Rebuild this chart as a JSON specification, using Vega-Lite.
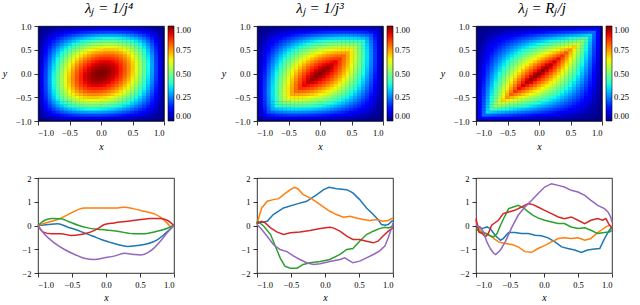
{
"$schema": "https://vega.github.io/schema/vega-lite/v6.json",
"padding": {"left": 1, "top": 0, "right": 0, "bottom": 0},
"background": "white",
"config": {
 "font": "Liberation Serif",
 "view": {"stroke": "black", "strokeWidth": 0.8},
 "axis": {"grid": false, "domain": false, "tickColor": "black", "tickSize": 4, "tickWidth": 0.8, "labelFont": "Liberation Serif", "labelFontSize": 8.5, "labelColor": "black", "labelPadding": 3, "titleFont": "Liberation Serif", "titleFontSize": 10, "titleFontStyle": "italic", "titleFontWeight": "normal", "titleColor": "black"},
 "title": {"font": "Liberation Serif", "fontSize": 15, "fontWeight": "normal", "fontStyle": "italic", "color": "black", "offset": 6},
 "legend": {"orient": "right", "offset": 4, "padding": 0, "gradientLength": 95, "gradientThickness": 6, "gradientStrokeColor": "black", "gradientStrokeWidth": 0.6, "labelFont": "Liberation Serif", "labelFontSize": 8.5, "labelColor": "black", "labelOffset": 4, "labelBaseline": "middle"}
},
"columns": 3,
"bounds": "flush",
"spacing": {"row": 57, "column": 83},
"resolve": {"scale": {"color": "independent", "x": "independent", "y": "independent"}, "legend": {"color": "independent"}},
"datasets": {
"hm": [
{"x":-0.9375,"y":-0.9375,"a":0.015,"b":0.042,"c":0.121},{"x":-0.875,"y":-0.9375,"a":0.028,"b":0.057,"c":0.117},{"x":-0.8125,"y":-0.9375,"a":0.040,"b":0.068,"c":0.113},{"x":-0.75,"y":-0.9375,"a":0.051,"b":0.075,"c":0.109},{"x":-0.6875,"y":-0.9375,"a":0.061,"b":0.080,"c":0.105},{"x":-0.625,"y":-0.9375,"a":0.069,"b":0.084,"c":0.102},{"x":-0.5625,"y":-0.9375,"a":0.076,"b":0.086,"c":0.098},{"x":-0.5,"y":-0.9375,"a":0.082,"b":0.088,"c":0.094},{"x":-0.4375,"y":-0.9375,"a":0.087,"b":0.088,"c":0.090},{"x":-0.375,"y":-0.9375,"a":0.090,"b":0.088,"c":0.086},{"x":-0.3125,"y":-0.9375,"a":0.093,"b":0.087,"c":0.082},{"x":-0.25,"y":-0.9375,"a":0.095,"b":0.086,"c":0.078},{"x":-0.1875,"y":-0.9375,"a":0.096,"b":0.084,"c":0.074},{"x":-0.125,"y":-0.9375,"a":0.096,"b":0.082,"c":0.070},{"x":-0.0625,"y":-0.9375,"a":0.095,"b":0.079,"c":0.066},{"x":0,"y":-0.9375,"a":0.094,"b":0.077,"c":0.063},{"x":0.0625,"y":-0.9375,"a":0.091,"b":0.073,"c":0.059},{"x":0.125,"y":-0.9375,"a":0.088,"b":0.070,"c":0.055},{"x":0.1875,"y":-0.9375,"a":0.085,"b":0.066,"c":0.051},{"x":0.25,"y":-0.9375,"a":0.080,"b":0.061,"c":0.047},{"x":0.3125,"y":-0.9375,"a":0.076,"b":0.057,"c":0.043},{"x":0.375,"y":-0.9375,"a":0.070,"b":0.052,"c":0.039},{"x":0.4375,"y":-0.9375,"a":0.065,"b":0.048,"c":0.035},{"x":0.5,"y":-0.9375,"a":0.059,"b":0.043,"c":0.031},{"x":0.5625,"y":-0.9375,"a":0.052,"b":0.038,"c":0.027},{"x":0.625,"y":-0.9375,"a":0.045,"b":0.033,"c":0.023},{"x":0.6875,"y":-0.9375,"a":0.038,"b":0.027,"c":0.020},{"x":0.75,"y":-0.9375,"a":0.031,"b":0.022,"c":0.016},{"x":0.8125,"y":-0.9375,"a":0.023,"b":0.016,"c":0.012},{"x":0.875,"y":-0.9375,"a":0.016,"b":0.011,"c":0.008},{"x":0.9375,"y":-0.9375,"a":0.008,"b":0.006,"c":0.004},
{"x":-0.9375,"y":-0.875,"a":0.028,"b":0.057,"c":0.117},{"x":-0.875,"y":-0.875,"a":0.055,"b":0.113,"c":0.234},{"x":-0.8125,"y":-0.875,"a":0.079,"b":0.134,"c":0.227},{"x":-0.75,"y":-0.875,"a":0.101,"b":0.149,"c":0.219},{"x":-0.6875,"y":-0.875,"a":0.120,"b":0.159,"c":0.211},{"x":-0.625,"y":-0.875,"a":0.136,"b":0.166,"c":0.203},{"x":-0.5625,"y":-0.875,"a":0.151,"b":0.171,"c":0.195},{"x":-0.5,"y":-0.875,"a":0.163,"b":0.175,"c":0.188},{"x":-0.4375,"y":-0.875,"a":0.172,"b":0.176,"c":0.180},{"x":-0.375,"y":-0.875,"a":0.180,"b":0.176,"c":0.172},{"x":-0.3125,"y":-0.875,"a":0.186,"b":0.174,"c":0.164},{"x":-0.25,"y":-0.875,"a":0.189,"b":0.172,"c":0.156},{"x":-0.1875,"y":-0.875,"a":0.191,"b":0.168,"c":0.148},{"x":-0.125,"y":-0.875,"a":0.191,"b":0.164,"c":0.141},{"x":-0.0625,"y":-0.875,"a":0.190,"b":0.159,"c":0.133},{"x":0,"y":-0.875,"a":0.187,"b":0.153,"c":0.125},{"x":0.0625,"y":-0.875,"a":0.182,"b":0.146,"c":0.117},{"x":0.125,"y":-0.875,"a":0.176,"b":0.139,"c":0.109},{"x":0.1875,"y":-0.875,"a":0.169,"b":0.131,"c":0.102},{"x":0.25,"y":-0.875,"a":0.160,"b":0.123,"c":0.094},{"x":0.3125,"y":-0.875,"a":0.151,"b":0.114,"c":0.086},{"x":0.375,"y":-0.875,"a":0.140,"b":0.105,"c":0.078},{"x":0.4375,"y":-0.875,"a":0.129,"b":0.095,"c":0.070},{"x":0.5,"y":-0.875,"a":0.117,"b":0.085,"c":0.063},{"x":0.5625,"y":-0.875,"a":0.104,"b":0.075,"c":0.055},{"x":0.625,"y":-0.875,"a":0.090,"b":0.065,"c":0.047},{"x":0.6875,"y":-0.875,"a":0.076,"b":0.054,"c":0.039},{"x":0.75,"y":-0.875,"a":0.061,"b":0.044,"c":0.031},{"x":0.8125,"y":-0.875,"a":0.046,"b":0.033,"c":0.023},{"x":0.875,"y":-0.875,"a":0.031,"b":0.022,"c":0.016},{"x":0.9375,"y":-0.875,"a":0.016,"b":0.011,"c":0.008},
{"x":-0.9375,"y":-0.8125,"a":0.040,"b":0.068,"c":0.113},{"x":-0.875,"y":-0.8125,"a":0.079,"b":0.134,"c":0.227},{"x":-0.8125,"y":-0.8125,"a":0.116,"b":0.198,"c":0.340},{"x":-0.75,"y":-0.8125,"a":0.148,"b":0.220,"c":0.328},{"x":-0.6875,"y":-0.8125,"a":0.177,"b":0.236,"c":0.316},{"x":-0.625,"y":-0.8125,"a":0.202,"b":0.248,"c":0.305},{"x":-0.5625,"y":-0.8125,"a":0.223,"b":0.256,"c":0.293},{"x":-0.5,"y":-0.8125,"a":0.241,"b":0.260,"c":0.281},{"x":-0.4375,"y":-0.8125,"a":0.256,"b":0.263,"c":0.270},{"x":-0.375,"y":-0.8125,"a":0.267,"b":0.263,"c":0.258},{"x":-0.3125,"y":-0.8125,"a":0.276,"b":0.261,"c":0.246},{"x":-0.25,"y":-0.8125,"a":0.281,"b":0.257,"c":0.234},{"x":-0.1875,"y":-0.8125,"a":0.285,"b":0.252,"c":0.223},{"x":-0.125,"y":-0.8125,"a":0.285,"b":0.245,"c":0.211},{"x":-0.0625,"y":-0.8125,"a":0.282,"b":0.237,"c":0.199},{"x":0,"y":-0.8125,"a":0.278,"b":0.228,"c":0.188},{"x":0.0625,"y":-0.8125,"a":0.271,"b":0.219,"c":0.176},{"x":0.125,"y":-0.8125,"a":0.262,"b":0.208,"c":0.164},{"x":0.1875,"y":-0.8125,"a":0.252,"b":0.196,"c":0.152},{"x":0.25,"y":-0.8125,"a":0.239,"b":0.183,"c":0.141},{"x":0.3125,"y":-0.8125,"a":0.225,"b":0.170,"c":0.129},{"x":0.375,"y":-0.8125,"a":0.209,"b":0.157,"c":0.117},{"x":0.4375,"y":-0.8125,"a":0.192,"b":0.142,"c":0.105},{"x":0.5,"y":-0.8125,"a":0.174,"b":0.128,"c":0.094},{"x":0.5625,"y":-0.8125,"a":0.155,"b":0.113,"c":0.082},{"x":0.625,"y":-0.8125,"a":0.134,"b":0.097,"c":0.070},{"x":0.6875,"y":-0.8125,"a":0.113,"b":0.082,"c":0.059},{"x":0.75,"y":-0.8125,"a":0.091,"b":0.065,"c":0.047},{"x":0.8125,"y":-0.8125,"a":0.069,"b":0.049,"c":0.035},{"x":0.875,"y":-0.8125,"a":0.046,"b":0.033,"c":0.023},{"x":0.9375,"y":-0.8125,"a":0.023,"b":0.016,"c":0.012},
{"x":-0.9375,"y":-0.75,"a":0.051,"b":0.075,"c":0.109},{"x":-0.875,"y":-0.75,"a":0.101,"b":0.149,"c":0.219},{"x":-0.8125,"y":-0.75,"a":0.148,"b":0.220,"c":0.328},{"x":-0.75,"y":-0.75,"a":0.191,"b":0.289,"c":0.438},{"x":-0.6875,"y":-0.75,"a":0.230,"b":0.311,"c":0.422},{"x":-0.625,"y":-0.75,"a":0.263,"b":0.327,"c":0.406},{"x":-0.5625,"y":-0.75,"a":0.292,"b":0.338,"c":0.391},{"x":-0.5,"y":-0.75,"a":0.316,"b":0.345,"c":0.375},{"x":-0.4375,"y":-0.75,"a":0.336,"b":0.347,"c":0.359},{"x":-0.375,"y":-0.75,"a":0.352,"b":0.348,"c":0.344},{"x":-0.3125,"y":-0.75,"a":0.363,"b":0.345,"c":0.328},{"x":-0.25,"y":-0.75,"a":0.371,"b":0.341,"c":0.313},{"x":-0.1875,"y":-0.75,"a":0.375,"b":0.334,"c":0.297},{"x":-0.125,"y":-0.75,"a":0.376,"b":0.325,"c":0.281},{"x":-0.0625,"y":-0.75,"a":0.373,"b":0.315,"c":0.266},{"x":0,"y":-0.75,"a":0.367,"b":0.303,"c":0.25},{"x":0.0625,"y":-0.75,"a":0.358,"b":0.290,"c":0.234},{"x":0.125,"y":-0.75,"a":0.347,"b":0.276,"c":0.219},{"x":0.1875,"y":-0.75,"a":0.333,"b":0.260,"c":0.203},{"x":0.25,"y":-0.75,"a":0.316,"b":0.244,"c":0.188},{"x":0.3125,"y":-0.75,"a":0.298,"b":0.226,"c":0.172},{"x":0.375,"y":-0.75,"a":0.277,"b":0.208,"c":0.156},{"x":0.4375,"y":-0.75,"a":0.255,"b":0.189,"c":0.141},{"x":0.5,"y":-0.75,"a":0.230,"b":0.170,"c":0.125},{"x":0.5625,"y":-0.75,"a":0.205,"b":0.150,"c":0.109},{"x":0.625,"y":-0.75,"a":0.178,"b":0.129,"c":0.094},{"x":0.6875,"y":-0.75,"a":0.150,"b":0.108,"c":0.078},{"x":0.75,"y":-0.75,"a":0.121,"b":0.087,"c":0.063},{"x":0.8125,"y":-0.75,"a":0.091,"b":0.065,"c":0.047},{"x":0.875,"y":-0.75,"a":0.061,"b":0.044,"c":0.031},{"x":0.9375,"y":-0.75,"a":0.031,"b":0.022,"c":0.016},
{"x":-0.9375,"y":-0.6875,"a":0.061,"b":0.080,"c":0.105},{"x":-0.875,"y":-0.6875,"a":0.120,"b":0.159,"c":0.211},{"x":-0.8125,"y":-0.6875,"a":0.177,"b":0.236,"c":0.316},{"x":-0.75,"y":-0.6875,"a":0.230,"b":0.311,"c":0.422},{"x":-0.6875,"y":-0.6875,"a":0.278,"b":0.383,"c":0.527},{"x":-0.625,"y":-0.6875,"a":0.320,"b":0.403,"c":0.508},{"x":-0.5625,"y":-0.6875,"a":0.356,"b":0.417,"c":0.488},{"x":-0.5,"y":-0.6875,"a":0.387,"b":0.426,"c":0.469},{"x":-0.4375,"y":-0.6875,"a":0.412,"b":0.430,"c":0.449},{"x":-0.375,"y":-0.6875,"a":0.432,"b":0.431,"c":0.430},{"x":-0.3125,"y":-0.6875,"a":0.447,"b":0.428,"c":0.410},{"x":-0.25,"y":-0.6875,"a":0.457,"b":0.423,"c":0.391},{"x":-0.1875,"y":-0.6875,"a":0.462,"b":0.414,"c":0.371},{"x":-0.125,"y":-0.6875,"a":0.464,"b":0.404,"c":0.352},{"x":-0.0625,"y":-0.6875,"a":0.460,"b":0.391,"c":0.332},{"x":0,"y":-0.6875,"a":0.453,"b":0.377,"c":0.313},{"x":0.0625,"y":-0.6875,"a":0.443,"b":0.360,"c":0.293},{"x":0.125,"y":-0.6875,"a":0.428,"b":0.342,"c":0.273},{"x":0.1875,"y":-0.6875,"a":0.412,"b":0.323,"c":0.254},{"x":0.25,"y":-0.6875,"a":0.391,"b":0.303,"c":0.234},{"x":0.3125,"y":-0.6875,"a":0.368,"b":0.281,"c":0.215},{"x":0.375,"y":-0.6875,"a":0.343,"b":0.259,"c":0.195},{"x":0.4375,"y":-0.6875,"a":0.315,"b":0.235,"c":0.176},{"x":0.5,"y":-0.6875,"a":0.285,"b":0.211,"c":0.156},{"x":0.5625,"y":-0.6875,"a":0.254,"b":0.186,"c":0.137},{"x":0.625,"y":-0.6875,"a":0.220,"b":0.161,"c":0.117},{"x":0.6875,"y":-0.6875,"a":0.186,"b":0.135,"c":0.098},{"x":0.75,"y":-0.6875,"a":0.150,"b":0.108,"c":0.078},{"x":0.8125,"y":-0.6875,"a":0.113,"b":0.082,"c":0.059},{"x":0.875,"y":-0.6875,"a":0.076,"b":0.054,"c":0.039},{"x":0.9375,"y":-0.6875,"a":0.038,"b":0.027,"c":0.020},
{"x":-0.9375,"y":-0.625,"a":0.069,"b":0.084,"c":0.102},{"x":-0.875,"y":-0.625,"a":0.136,"b":0.166,"c":0.203},{"x":-0.8125,"y":-0.625,"a":0.202,"b":0.248,"c":0.305},{"x":-0.75,"y":-0.625,"a":0.263,"b":0.327,"c":0.406},{"x":-0.6875,"y":-0.625,"a":0.320,"b":0.403,"c":0.508},{"x":-0.625,"y":-0.625,"a":0.371,"b":0.476,"c":0.609},{"x":-0.5625,"y":-0.625,"a":0.415,"b":0.493,"c":0.586},{"x":-0.5,"y":-0.625,"a":0.453,"b":0.505,"c":0.563},{"x":-0.4375,"y":-0.625,"a":0.483,"b":0.510,"c":0.539},{"x":-0.375,"y":-0.625,"a":0.508,"b":0.512,"c":0.516},{"x":-0.3125,"y":-0.625,"a":0.526,"b":0.509,"c":0.492},{"x":-0.25,"y":-0.625,"a":0.538,"b":0.503,"c":0.469},{"x":-0.1875,"y":-0.625,"a":0.545,"b":0.493,"c":0.445},{"x":-0.125,"y":-0.625,"a":0.547,"b":0.481,"c":0.422},{"x":-0.0625,"y":-0.625,"a":0.544,"b":0.465,"c":0.398},{"x":0,"y":-0.625,"a":0.536,"b":0.448,"c":0.375},{"x":0.0625,"y":-0.625,"a":0.524,"b":0.429,"c":0.352},{"x":0.125,"y":-0.625,"a":0.508,"b":0.408,"c":0.328},{"x":0.1875,"y":-0.625,"a":0.488,"b":0.386,"c":0.305},{"x":0.25,"y":-0.625,"a":0.464,"b":0.361,"c":0.281},{"x":0.3125,"y":-0.625,"a":0.437,"b":0.336,"c":0.258},{"x":0.375,"y":-0.625,"a":0.406,"b":0.309,"c":0.234},{"x":0.4375,"y":-0.625,"a":0.374,"b":0.281,"c":0.211},{"x":0.5,"y":-0.625,"a":0.338,"b":0.252,"c":0.188},{"x":0.5625,"y":-0.625,"a":0.301,"b":0.222,"c":0.164},{"x":0.625,"y":-0.625,"a":0.261,"b":0.192,"c":0.141},{"x":0.6875,"y":-0.625,"a":0.220,"b":0.161,"c":0.117},{"x":0.75,"y":-0.625,"a":0.178,"b":0.129,"c":0.094},{"x":0.8125,"y":-0.625,"a":0.134,"b":0.097,"c":0.070},{"x":0.875,"y":-0.625,"a":0.090,"b":0.065,"c":0.047},{"x":0.9375,"y":-0.625,"a":0.045,"b":0.033,"c":0.023},
{"x":-0.9375,"y":-0.5625,"a":0.076,"b":0.086,"c":0.098},{"x":-0.875,"y":-0.5625,"a":0.151,"b":0.171,"c":0.195},{"x":-0.8125,"y":-0.5625,"a":0.223,"b":0.256,"c":0.293},{"x":-0.75,"y":-0.5625,"a":0.292,"b":0.338,"c":0.391},{"x":-0.6875,"y":-0.5625,"a":0.356,"b":0.417,"c":0.488},{"x":-0.625,"y":-0.5625,"a":0.415,"b":0.493,"c":0.586},{"x":-0.5625,"y":-0.5625,"a":0.468,"b":0.565,"c":0.684},{"x":-0.5,"y":-0.5625,"a":0.511,"b":0.579,"c":0.656},{"x":-0.4375,"y":-0.5625,"a":0.548,"b":0.587,"c":0.629},{"x":-0.375,"y":-0.5625,"a":0.577,"b":0.589,"c":0.602},{"x":-0.3125,"y":-0.5625,"a":0.599,"b":0.586,"c":0.574},{"x":-0.25,"y":-0.5625,"a":0.614,"b":0.580,"c":0.547},{"x":-0.1875,"y":-0.5625,"a":0.623,"b":0.569,"c":0.520},{"x":-0.125,"y":-0.5625,"a":0.625,"b":0.555,"c":0.492},{"x":-0.0625,"y":-0.5625,"a":0.623,"b":0.538,"c":0.465},{"x":0,"y":-0.5625,"a":0.614,"b":0.518,"c":0.438},{"x":0.0625,"y":-0.5625,"a":0.601,"b":0.496,"c":0.410},{"x":0.125,"y":-0.5625,"a":0.582,"b":0.472,"c":0.383},{"x":0.1875,"y":-0.5625,"a":0.559,"b":0.446,"c":0.355},{"x":0.25,"y":-0.5625,"a":0.532,"b":0.418,"c":0.328},{"x":0.3125,"y":-0.5625,"a":0.502,"b":0.389,"c":0.301},{"x":0.375,"y":-0.5625,"a":0.467,"b":0.357,"c":0.273},{"x":0.4375,"y":-0.5625,"a":0.430,"b":0.325,"c":0.246},{"x":0.5,"y":-0.5625,"a":0.389,"b":0.292,"c":0.219},{"x":0.5625,"y":-0.5625,"a":0.346,"b":0.257,"c":0.191},{"x":0.625,"y":-0.5625,"a":0.301,"b":0.222,"c":0.164},{"x":0.6875,"y":-0.5625,"a":0.254,"b":0.186,"c":0.137},{"x":0.75,"y":-0.5625,"a":0.205,"b":0.150,"c":0.109},{"x":0.8125,"y":-0.5625,"a":0.155,"b":0.113,"c":0.082},{"x":0.875,"y":-0.5625,"a":0.104,"b":0.075,"c":0.055},{"x":0.9375,"y":-0.5625,"a":0.052,"b":0.038,"c":0.027},
{"x":-0.9375,"y":-0.5,"a":0.082,"b":0.088,"c":0.094},{"x":-0.875,"y":-0.5,"a":0.163,"b":0.175,"c":0.188},{"x":-0.8125,"y":-0.5,"a":0.241,"b":0.260,"c":0.281},{"x":-0.75,"y":-0.5,"a":0.316,"b":0.345,"c":0.375},{"x":-0.6875,"y":-0.5,"a":0.387,"b":0.426,"c":0.469},{"x":-0.625,"y":-0.5,"a":0.453,"b":0.505,"c":0.563},{"x":-0.5625,"y":-0.5,"a":0.511,"b":0.579,"c":0.656},{"x":-0.5,"y":-0.5,"a":0.563,"b":0.650,"c":0.75},{"x":-0.4375,"y":-0.5,"a":0.605,"b":0.660,"c":0.719},{"x":-0.375,"y":-0.5,"a":0.639,"b":0.663,"c":0.688},{"x":-0.3125,"y":-0.5,"a":0.665,"b":0.661,"c":0.656},{"x":-0.25,"y":-0.5,"a":0.684,"b":0.654,"c":0.625},{"x":-0.1875,"y":-0.5,"a":0.695,"b":0.642,"c":0.594},{"x":-0.125,"y":-0.5,"a":0.699,"b":0.627,"c":0.563},{"x":-0.0625,"y":-0.5,"a":0.696,"b":0.608,"c":0.531},{"x":0,"y":-0.5,"a":0.688,"b":0.586,"c":0.5},{"x":0.0625,"y":-0.5,"a":0.673,"b":0.562,"c":0.469},{"x":0.125,"y":-0.5,"a":0.653,"b":0.535,"c":0.438},{"x":0.1875,"y":-0.5,"a":0.628,"b":0.505,"c":0.406},{"x":0.25,"y":-0.5,"a":0.598,"b":0.473,"c":0.375},{"x":0.3125,"y":-0.5,"a":0.563,"b":0.440,"c":0.344},{"x":0.375,"y":-0.5,"a":0.525,"b":0.405,"c":0.313},{"x":0.4375,"y":-0.5,"a":0.483,"b":0.368,"c":0.281},{"x":0.5,"y":-0.5,"a":0.438,"b":0.331,"c":0.25},{"x":0.5625,"y":-0.5,"a":0.389,"b":0.292,"c":0.219},{"x":0.625,"y":-0.5,"a":0.338,"b":0.252,"c":0.188},{"x":0.6875,"y":-0.5,"a":0.285,"b":0.211,"c":0.156},{"x":0.75,"y":-0.5,"a":0.230,"b":0.170,"c":0.125},{"x":0.8125,"y":-0.5,"a":0.174,"b":0.128,"c":0.094},{"x":0.875,"y":-0.5,"a":0.117,"b":0.085,"c":0.063},{"x":0.9375,"y":-0.5,"a":0.059,"b":0.043,"c":0.031},
{"x":-0.9375,"y":-0.4375,"a":0.087,"b":0.088,"c":0.090},{"x":-0.875,"y":-0.4375,"a":0.172,"b":0.176,"c":0.180},{"x":-0.8125,"y":-0.4375,"a":0.256,"b":0.263,"c":0.270},{"x":-0.75,"y":-0.4375,"a":0.336,"b":0.347,"c":0.359},{"x":-0.6875,"y":-0.4375,"a":0.412,"b":0.430,"c":0.449},{"x":-0.625,"y":-0.4375,"a":0.483,"b":0.510,"c":0.539},{"x":-0.5625,"y":-0.4375,"a":0.548,"b":0.587,"c":0.629},{"x":-0.5,"y":-0.4375,"a":0.605,"b":0.660,"c":0.719},{"x":-0.4375,"y":-0.4375,"a":0.654,"b":0.727,"c":0.809},{"x":-0.375,"y":-0.4375,"a":0.693,"b":0.732,"c":0.773},{"x":-0.3125,"y":-0.4375,"a":0.723,"b":0.731,"c":0.738},{"x":-0.25,"y":-0.4375,"a":0.746,"b":0.724,"c":0.703},{"x":-0.1875,"y":-0.4375,"a":0.759,"b":0.712,"c":0.668},{"x":-0.125,"y":-0.4375,"a":0.765,"b":0.696,"c":0.633},{"x":-0.0625,"y":-0.4375,"a":0.764,"b":0.676,"c":0.598},{"x":0,"y":-0.4375,"a":0.755,"b":0.651,"c":0.563},{"x":0.0625,"y":-0.4375,"a":0.739,"b":0.624,"c":0.527},{"x":0.125,"y":-0.4375,"a":0.718,"b":0.594,"c":0.492},{"x":0.1875,"y":-0.4375,"a":0.691,"b":0.562,"c":0.457},{"x":0.25,"y":-0.4375,"a":0.659,"b":0.527,"c":0.422},{"x":0.3125,"y":-0.4375,"a":0.621,"b":0.490,"c":0.387},{"x":0.375,"y":-0.4375,"a":0.579,"b":0.452,"c":0.352},{"x":0.4375,"y":-0.4375,"a":0.532,"b":0.410,"c":0.316},{"x":0.5,"y":-0.4375,"a":0.483,"b":0.368,"c":0.281},{"x":0.5625,"y":-0.4375,"a":0.430,"b":0.325,"c":0.246},{"x":0.625,"y":-0.4375,"a":0.374,"b":0.281,"c":0.211},{"x":0.6875,"y":-0.4375,"a":0.315,"b":0.235,"c":0.176},{"x":0.75,"y":-0.4375,"a":0.255,"b":0.189,"c":0.141},{"x":0.8125,"y":-0.4375,"a":0.192,"b":0.142,"c":0.105},{"x":0.875,"y":-0.4375,"a":0.129,"b":0.095,"c":0.070},{"x":0.9375,"y":-0.4375,"a":0.065,"b":0.048,"c":0.035},
{"x":-0.9375,"y":-0.375,"a":0.090,"b":0.088,"c":0.086},{"x":-0.875,"y":-0.375,"a":0.180,"b":0.176,"c":0.172},{"x":-0.8125,"y":-0.375,"a":0.267,"b":0.263,"c":0.258},{"x":-0.75,"y":-0.375,"a":0.352,"b":0.348,"c":0.344},{"x":-0.6875,"y":-0.375,"a":0.432,"b":0.431,"c":0.430},{"x":-0.625,"y":-0.375,"a":0.508,"b":0.512,"c":0.516},{"x":-0.5625,"y":-0.375,"a":0.577,"b":0.589,"c":0.602},{"x":-0.5,"y":-0.375,"a":0.639,"b":0.663,"c":0.688},{"x":-0.4375,"y":-0.375,"a":0.693,"b":0.732,"c":0.773},{"x":-0.375,"y":-0.375,"a":0.739,"b":0.797,"c":0.859},{"x":-0.3125,"y":-0.375,"a":0.774,"b":0.796,"c":0.820},{"x":-0.25,"y":-0.375,"a":0.800,"b":0.790,"c":0.781},{"x":-0.1875,"y":-0.375,"a":0.816,"b":0.778,"c":0.742},{"x":-0.125,"y":-0.375,"a":0.824,"b":0.761,"c":0.703},{"x":-0.0625,"y":-0.375,"a":0.823,"b":0.740,"c":0.664},{"x":0,"y":-0.375,"a":0.815,"b":0.714,"c":0.625},{"x":0.0625,"y":-0.375,"a":0.800,"b":0.684,"c":0.586},{"x":0.125,"y":-0.375,"a":0.778,"b":0.652,"c":0.547},{"x":0.1875,"y":-0.375,"a":0.749,"b":0.617,"c":0.508},{"x":0.25,"y":-0.375,"a":0.714,"b":0.579,"c":0.469},{"x":0.3125,"y":-0.375,"a":0.674,"b":0.538,"c":0.430},{"x":0.375,"y":-0.375,"a":0.629,"b":0.496,"c":0.391},{"x":0.4375,"y":-0.375,"a":0.579,"b":0.452,"c":0.352},{"x":0.5,"y":-0.375,"a":0.525,"b":0.405,"c":0.313},{"x":0.5625,"y":-0.375,"a":0.467,"b":0.357,"c":0.273},{"x":0.625,"y":-0.375,"a":0.406,"b":0.309,"c":0.234},{"x":0.6875,"y":-0.375,"a":0.343,"b":0.259,"c":0.195},{"x":0.75,"y":-0.375,"a":0.277,"b":0.208,"c":0.156},{"x":0.8125,"y":-0.375,"a":0.209,"b":0.157,"c":0.117},{"x":0.875,"y":-0.375,"a":0.140,"b":0.105,"c":0.078},{"x":0.9375,"y":-0.375,"a":0.070,"b":0.052,"c":0.039},
{"x":-0.9375,"y":-0.3125,"a":0.093,"b":0.087,"c":0.082},{"x":-0.875,"y":-0.3125,"a":0.186,"b":0.174,"c":0.164},{"x":-0.8125,"y":-0.3125,"a":0.276,"b":0.261,"c":0.246},{"x":-0.75,"y":-0.3125,"a":0.363,"b":0.345,"c":0.328},{"x":-0.6875,"y":-0.3125,"a":0.447,"b":0.428,"c":0.410},{"x":-0.625,"y":-0.3125,"a":0.526,"b":0.509,"c":0.492},{"x":-0.5625,"y":-0.3125,"a":0.599,"b":0.586,"c":0.574},{"x":-0.5,"y":-0.3125,"a":0.665,"b":0.661,"c":0.656},{"x":-0.4375,"y":-0.3125,"a":0.723,"b":0.731,"c":0.738},{"x":-0.375,"y":-0.3125,"a":0.774,"b":0.796,"c":0.820},{"x":-0.3125,"y":-0.3125,"a":0.814,"b":0.857,"c":0.902},{"x":-0.25,"y":-0.3125,"a":0.844,"b":0.851,"c":0.859},{"x":-0.1875,"y":-0.3125,"a":0.864,"b":0.840,"c":0.816},{"x":-0.125,"y":-0.3125,"a":0.874,"b":0.822,"c":0.773},{"x":-0.0625,"y":-0.3125,"a":0.876,"b":0.800,"c":0.730},{"x":0,"y":-0.3125,"a":0.869,"b":0.773,"c":0.688},{"x":0.0625,"y":-0.3125,"a":0.854,"b":0.742,"c":0.645},{"x":0.125,"y":-0.3125,"a":0.831,"b":0.707,"c":0.602},{"x":0.1875,"y":-0.3125,"a":0.801,"b":0.669,"c":0.559},{"x":0.25,"y":-0.3125,"a":0.764,"b":0.628,"c":0.516},{"x":0.3125,"y":-0.3125,"a":0.722,"b":0.584,"c":0.473},{"x":0.375,"y":-0.3125,"a":0.674,"b":0.538,"c":0.430},{"x":0.4375,"y":-0.3125,"a":0.621,"b":0.490,"c":0.387},{"x":0.5,"y":-0.3125,"a":0.563,"b":0.440,"c":0.344},{"x":0.5625,"y":-0.3125,"a":0.502,"b":0.389,"c":0.301},{"x":0.625,"y":-0.3125,"a":0.437,"b":0.336,"c":0.258},{"x":0.6875,"y":-0.3125,"a":0.368,"b":0.281,"c":0.215},{"x":0.75,"y":-0.3125,"a":0.298,"b":0.226,"c":0.172},{"x":0.8125,"y":-0.3125,"a":0.225,"b":0.170,"c":0.129},{"x":0.875,"y":-0.3125,"a":0.151,"b":0.114,"c":0.086},{"x":0.9375,"y":-0.3125,"a":0.076,"b":0.057,"c":0.043},
{"x":-0.9375,"y":-0.25,"a":0.095,"b":0.086,"c":0.078},{"x":-0.875,"y":-0.25,"a":0.189,"b":0.172,"c":0.156},{"x":-0.8125,"y":-0.25,"a":0.281,"b":0.257,"c":0.234},{"x":-0.75,"y":-0.25,"a":0.371,"b":0.341,"c":0.313},{"x":-0.6875,"y":-0.25,"a":0.457,"b":0.423,"c":0.391},{"x":-0.625,"y":-0.25,"a":0.538,"b":0.503,"c":0.469},{"x":-0.5625,"y":-0.25,"a":0.614,"b":0.580,"c":0.547},{"x":-0.5,"y":-0.25,"a":0.684,"b":0.654,"c":0.625},{"x":-0.4375,"y":-0.25,"a":0.746,"b":0.724,"c":0.703},{"x":-0.375,"y":-0.25,"a":0.800,"b":0.790,"c":0.781},{"x":-0.3125,"y":-0.25,"a":0.844,"b":0.851,"c":0.859},{"x":-0.25,"y":-0.25,"a":0.879,"b":0.908,"c":0.938},{"x":-0.1875,"y":-0.25,"a":0.903,"b":0.897,"c":0.891},{"x":-0.125,"y":-0.25,"a":0.916,"b":0.879,"c":0.844},{"x":-0.0625,"y":-0.25,"a":0.920,"b":0.856,"c":0.797},{"x":0,"y":-0.25,"a":0.914,"b":0.828,"c":0.75},{"x":0.0625,"y":-0.25,"a":0.899,"b":0.795,"c":0.703},{"x":0.125,"y":-0.25,"a":0.877,"b":0.758,"c":0.656},{"x":0.1875,"y":-0.25,"a":0.846,"b":0.718,"c":0.609},{"x":0.25,"y":-0.25,"a":0.809,"b":0.674,"c":0.563},{"x":0.3125,"y":-0.25,"a":0.764,"b":0.628,"c":0.516},{"x":0.375,"y":-0.25,"a":0.714,"b":0.579,"c":0.469},{"x":0.4375,"y":-0.25,"a":0.659,"b":0.527,"c":0.422},{"x":0.5,"y":-0.25,"a":0.598,"b":0.473,"c":0.375},{"x":0.5625,"y":-0.25,"a":0.532,"b":0.418,"c":0.328},{"x":0.625,"y":-0.25,"a":0.464,"b":0.361,"c":0.281},{"x":0.6875,"y":-0.25,"a":0.391,"b":0.303,"c":0.234},{"x":0.75,"y":-0.25,"a":0.316,"b":0.244,"c":0.188},{"x":0.8125,"y":-0.25,"a":0.239,"b":0.183,"c":0.141},{"x":0.875,"y":-0.25,"a":0.160,"b":0.123,"c":0.094},{"x":0.9375,"y":-0.25,"a":0.080,"b":0.061,"c":0.047},
{"x":-0.9375,"y":-0.1875,"a":0.096,"b":0.084,"c":0.074},{"x":-0.875,"y":-0.1875,"a":0.191,"b":0.168,"c":0.148},{"x":-0.8125,"y":-0.1875,"a":0.285,"b":0.252,"c":0.223},{"x":-0.75,"y":-0.1875,"a":0.375,"b":0.334,"c":0.297},{"x":-0.6875,"y":-0.1875,"a":0.462,"b":0.414,"c":0.371},{"x":-0.625,"y":-0.1875,"a":0.545,"b":0.493,"c":0.445},{"x":-0.5625,"y":-0.1875,"a":0.623,"b":0.569,"c":0.520},{"x":-0.5,"y":-0.1875,"a":0.695,"b":0.642,"c":0.594},{"x":-0.4375,"y":-0.1875,"a":0.759,"b":0.712,"c":0.668},{"x":-0.375,"y":-0.1875,"a":0.816,"b":0.778,"c":0.742},{"x":-0.3125,"y":-0.1875,"a":0.864,"b":0.840,"c":0.816},{"x":-0.25,"y":-0.1875,"a":0.903,"b":0.897,"c":0.891},{"x":-0.1875,"y":-0.1875,"a":0.931,"b":0.948,"c":0.965},{"x":-0.125,"y":-0.1875,"a":0.948,"b":0.931,"c":0.914},{"x":-0.0625,"y":-0.1875,"a":0.954,"b":0.907,"c":0.863},{"x":0,"y":-0.1875,"a":0.951,"b":0.879,"c":0.813},{"x":0.0625,"y":-0.1875,"a":0.937,"b":0.845,"c":0.762},{"x":0.125,"y":-0.1875,"a":0.915,"b":0.807,"c":0.711},{"x":0.1875,"y":-0.1875,"a":0.884,"b":0.764,"c":0.660},{"x":0.25,"y":-0.1875,"a":0.846,"b":0.718,"c":0.609},{"x":0.3125,"y":-0.1875,"a":0.801,"b":0.669,"c":0.559},{"x":0.375,"y":-0.1875,"a":0.749,"b":0.617,"c":0.508},{"x":0.4375,"y":-0.1875,"a":0.691,"b":0.562,"c":0.457},{"x":0.5,"y":-0.1875,"a":0.628,"b":0.505,"c":0.406},{"x":0.5625,"y":-0.1875,"a":0.559,"b":0.446,"c":0.355},{"x":0.625,"y":-0.1875,"a":0.488,"b":0.386,"c":0.305},{"x":0.6875,"y":-0.1875,"a":0.412,"b":0.323,"c":0.254},{"x":0.75,"y":-0.1875,"a":0.333,"b":0.260,"c":0.203},{"x":0.8125,"y":-0.1875,"a":0.252,"b":0.196,"c":0.152},{"x":0.875,"y":-0.1875,"a":0.169,"b":0.131,"c":0.102},{"x":0.9375,"y":-0.1875,"a":0.085,"b":0.066,"c":0.051},
{"x":-0.9375,"y":-0.125,"a":0.096,"b":0.082,"c":0.070},{"x":-0.875,"y":-0.125,"a":0.191,"b":0.164,"c":0.141},{"x":-0.8125,"y":-0.125,"a":0.285,"b":0.245,"c":0.211},{"x":-0.75,"y":-0.125,"a":0.376,"b":0.325,"c":0.281},{"x":-0.6875,"y":-0.125,"a":0.464,"b":0.404,"c":0.352},{"x":-0.625,"y":-0.125,"a":0.547,"b":0.481,"c":0.422},{"x":-0.5625,"y":-0.125,"a":0.625,"b":0.555,"c":0.492},{"x":-0.5,"y":-0.125,"a":0.699,"b":0.627,"c":0.563},{"x":-0.4375,"y":-0.125,"a":0.765,"b":0.696,"c":0.633},{"x":-0.375,"y":-0.125,"a":0.824,"b":0.761,"c":0.703},{"x":-0.3125,"y":-0.125,"a":0.874,"b":0.822,"c":0.773},{"x":-0.25,"y":-0.125,"a":0.916,"b":0.879,"c":0.844},{"x":-0.1875,"y":-0.125,"a":0.948,"b":0.931,"c":0.914},{"x":-0.125,"y":-0.125,"a":0.969,"b":0.977,"c":0.984},{"x":-0.0625,"y":-0.125,"a":0.979,"b":0.954,"c":0.930},{"x":0,"y":-0.125,"a":0.978,"b":0.925,"c":0.875},{"x":0.0625,"y":-0.125,"a":0.966,"b":0.890,"c":0.820},{"x":0.125,"y":-0.125,"a":0.945,"b":0.851,"c":0.766},{"x":0.1875,"y":-0.125,"a":0.915,"b":0.807,"c":0.711},{"x":0.25,"y":-0.125,"a":0.877,"b":0.758,"c":0.656},{"x":0.3125,"y":-0.125,"a":0.831,"b":0.707,"c":0.602},{"x":0.375,"y":-0.125,"a":0.778,"b":0.652,"c":0.547},{"x":0.4375,"y":-0.125,"a":0.718,"b":0.594,"c":0.492},{"x":0.5,"y":-0.125,"a":0.653,"b":0.535,"c":0.438},{"x":0.5625,"y":-0.125,"a":0.582,"b":0.472,"c":0.383},{"x":0.625,"y":-0.125,"a":0.508,"b":0.408,"c":0.328},{"x":0.6875,"y":-0.125,"a":0.428,"b":0.342,"c":0.273},{"x":0.75,"y":-0.125,"a":0.347,"b":0.276,"c":0.219},{"x":0.8125,"y":-0.125,"a":0.262,"b":0.208,"c":0.164},{"x":0.875,"y":-0.125,"a":0.176,"b":0.139,"c":0.109},{"x":0.9375,"y":-0.125,"a":0.088,"b":0.070,"c":0.055},
{"x":-0.9375,"y":-0.0625,"a":0.095,"b":0.079,"c":0.066},{"x":-0.875,"y":-0.0625,"a":0.190,"b":0.159,"c":0.133},{"x":-0.8125,"y":-0.0625,"a":0.282,"b":0.237,"c":0.199},{"x":-0.75,"y":-0.0625,"a":0.373,"b":0.315,"c":0.266},{"x":-0.6875,"y":-0.0625,"a":0.460,"b":0.391,"c":0.332},{"x":-0.625,"y":-0.0625,"a":0.544,"b":0.465,"c":0.398},{"x":-0.5625,"y":-0.0625,"a":0.623,"b":0.538,"c":0.465},{"x":-0.5,"y":-0.0625,"a":0.696,"b":0.608,"c":0.531},{"x":-0.4375,"y":-0.0625,"a":0.764,"b":0.676,"c":0.598},{"x":-0.375,"y":-0.0625,"a":0.823,"b":0.740,"c":0.664},{"x":-0.3125,"y":-0.0625,"a":0.876,"b":0.800,"c":0.730},{"x":-0.25,"y":-0.0625,"a":0.920,"b":0.856,"c":0.797},{"x":-0.1875,"y":-0.0625,"a":0.954,"b":0.907,"c":0.863},{"x":-0.125,"y":-0.0625,"a":0.979,"b":0.954,"c":0.930},{"x":-0.0625,"y":-0.0625,"a":0.992,"b":0.994,"c":0.996},{"x":0,"y":-0.0625,"a":0.994,"b":0.966,"c":0.938},{"x":0.0625,"y":-0.0625,"a":0.985,"b":0.931,"c":0.879},{"x":0.125,"y":-0.0625,"a":0.966,"b":0.890,"c":0.820},{"x":0.1875,"y":-0.0625,"a":0.937,"b":0.845,"c":0.762},{"x":0.25,"y":-0.0625,"a":0.899,"b":0.795,"c":0.703},{"x":0.3125,"y":-0.0625,"a":0.854,"b":0.742,"c":0.645},{"x":0.375,"y":-0.0625,"a":0.800,"b":0.684,"c":0.586},{"x":0.4375,"y":-0.0625,"a":0.739,"b":0.624,"c":0.527},{"x":0.5,"y":-0.0625,"a":0.673,"b":0.562,"c":0.469},{"x":0.5625,"y":-0.0625,"a":0.601,"b":0.496,"c":0.410},{"x":0.625,"y":-0.0625,"a":0.524,"b":0.429,"c":0.352},{"x":0.6875,"y":-0.0625,"a":0.443,"b":0.360,"c":0.293},{"x":0.75,"y":-0.0625,"a":0.358,"b":0.290,"c":0.234},{"x":0.8125,"y":-0.0625,"a":0.271,"b":0.219,"c":0.176},{"x":0.875,"y":-0.0625,"a":0.182,"b":0.146,"c":0.117},{"x":0.9375,"y":-0.0625,"a":0.091,"b":0.073,"c":0.059},
{"x":-0.9375,"y":0,"a":0.094,"b":0.077,"c":0.063},{"x":-0.875,"y":0,"a":0.187,"b":0.153,"c":0.125},{"x":-0.8125,"y":0,"a":0.278,"b":0.228,"c":0.188},{"x":-0.75,"y":0,"a":0.367,"b":0.303,"c":0.25},{"x":-0.6875,"y":0,"a":0.453,"b":0.377,"c":0.313},{"x":-0.625,"y":0,"a":0.536,"b":0.448,"c":0.375},{"x":-0.5625,"y":0,"a":0.614,"b":0.518,"c":0.438},{"x":-0.5,"y":0,"a":0.688,"b":0.586,"c":0.5},{"x":-0.4375,"y":0,"a":0.755,"b":0.651,"c":0.563},{"x":-0.375,"y":0,"a":0.815,"b":0.714,"c":0.625},{"x":-0.3125,"y":0,"a":0.869,"b":0.773,"c":0.688},{"x":-0.25,"y":0,"a":0.914,"b":0.828,"c":0.75},{"x":-0.1875,"y":0,"a":0.951,"b":0.879,"c":0.813},{"x":-0.125,"y":0,"a":0.978,"b":0.925,"c":0.875},{"x":-0.0625,"y":0,"a":0.994,"b":0.966,"c":0.938},{"x":0,"y":0,"a":1,"b":1,"c":1},{"x":0.0625,"y":0,"a":0.994,"b":0.966,"c":0.938},{"x":0.125,"y":0,"a":0.978,"b":0.925,"c":0.875},{"x":0.1875,"y":0,"a":0.951,"b":0.879,"c":0.813},{"x":0.25,"y":0,"a":0.914,"b":0.828,"c":0.75},{"x":0.3125,"y":0,"a":0.869,"b":0.773,"c":0.688},{"x":0.375,"y":0,"a":0.815,"b":0.714,"c":0.625},{"x":0.4375,"y":0,"a":0.755,"b":0.651,"c":0.563},{"x":0.5,"y":0,"a":0.688,"b":0.586,"c":0.5},{"x":0.5625,"y":0,"a":0.614,"b":0.518,"c":0.438},{"x":0.625,"y":0,"a":0.536,"b":0.448,"c":0.375},{"x":0.6875,"y":0,"a":0.453,"b":0.377,"c":0.313},{"x":0.75,"y":0,"a":0.367,"b":0.303,"c":0.25},{"x":0.8125,"y":0,"a":0.278,"b":0.228,"c":0.188},{"x":0.875,"y":0,"a":0.187,"b":0.153,"c":0.125},{"x":0.9375,"y":0,"a":0.094,"b":0.077,"c":0.063},
{"x":-0.9375,"y":0.0625,"a":0.091,"b":0.073,"c":0.059},{"x":-0.875,"y":0.0625,"a":0.182,"b":0.146,"c":0.117},{"x":-0.8125,"y":0.0625,"a":0.271,"b":0.219,"c":0.176},{"x":-0.75,"y":0.0625,"a":0.358,"b":0.290,"c":0.234},{"x":-0.6875,"y":0.0625,"a":0.443,"b":0.360,"c":0.293},{"x":-0.625,"y":0.0625,"a":0.524,"b":0.429,"c":0.352},{"x":-0.5625,"y":0.0625,"a":0.601,"b":0.496,"c":0.410},{"x":-0.5,"y":0.0625,"a":0.673,"b":0.562,"c":0.469},{"x":-0.4375,"y":0.0625,"a":0.739,"b":0.624,"c":0.527},{"x":-0.375,"y":0.0625,"a":0.800,"b":0.684,"c":0.586},{"x":-0.3125,"y":0.0625,"a":0.854,"b":0.742,"c":0.645},{"x":-0.25,"y":0.0625,"a":0.899,"b":0.795,"c":0.703},{"x":-0.1875,"y":0.0625,"a":0.937,"b":0.845,"c":0.762},{"x":-0.125,"y":0.0625,"a":0.966,"b":0.890,"c":0.820},{"x":-0.0625,"y":0.0625,"a":0.985,"b":0.931,"c":0.879},{"x":0,"y":0.0625,"a":0.994,"b":0.966,"c":0.938},{"x":0.0625,"y":0.0625,"a":0.992,"b":0.994,"c":0.996},{"x":0.125,"y":0.0625,"a":0.979,"b":0.954,"c":0.930},{"x":0.1875,"y":0.0625,"a":0.954,"b":0.907,"c":0.863},{"x":0.25,"y":0.0625,"a":0.920,"b":0.856,"c":0.797},{"x":0.3125,"y":0.0625,"a":0.876,"b":0.800,"c":0.730},{"x":0.375,"y":0.0625,"a":0.823,"b":0.740,"c":0.664},{"x":0.4375,"y":0.0625,"a":0.764,"b":0.676,"c":0.598},{"x":0.5,"y":0.0625,"a":0.696,"b":0.608,"c":0.531},{"x":0.5625,"y":0.0625,"a":0.623,"b":0.538,"c":0.465},{"x":0.625,"y":0.0625,"a":0.544,"b":0.465,"c":0.398},{"x":0.6875,"y":0.0625,"a":0.460,"b":0.391,"c":0.332},{"x":0.75,"y":0.0625,"a":0.373,"b":0.315,"c":0.266},{"x":0.8125,"y":0.0625,"a":0.282,"b":0.237,"c":0.199},{"x":0.875,"y":0.0625,"a":0.190,"b":0.159,"c":0.133},{"x":0.9375,"y":0.0625,"a":0.095,"b":0.079,"c":0.066},
{"x":-0.9375,"y":0.125,"a":0.088,"b":0.070,"c":0.055},{"x":-0.875,"y":0.125,"a":0.176,"b":0.139,"c":0.109},{"x":-0.8125,"y":0.125,"a":0.262,"b":0.208,"c":0.164},{"x":-0.75,"y":0.125,"a":0.347,"b":0.276,"c":0.219},{"x":-0.6875,"y":0.125,"a":0.428,"b":0.342,"c":0.273},{"x":-0.625,"y":0.125,"a":0.508,"b":0.408,"c":0.328},{"x":-0.5625,"y":0.125,"a":0.582,"b":0.472,"c":0.383},{"x":-0.5,"y":0.125,"a":0.653,"b":0.535,"c":0.438},{"x":-0.4375,"y":0.125,"a":0.718,"b":0.594,"c":0.492},{"x":-0.375,"y":0.125,"a":0.778,"b":0.652,"c":0.547},{"x":-0.3125,"y":0.125,"a":0.831,"b":0.707,"c":0.602},{"x":-0.25,"y":0.125,"a":0.877,"b":0.758,"c":0.656},{"x":-0.1875,"y":0.125,"a":0.915,"b":0.807,"c":0.711},{"x":-0.125,"y":0.125,"a":0.945,"b":0.851,"c":0.766},{"x":-0.0625,"y":0.125,"a":0.966,"b":0.890,"c":0.820},{"x":0,"y":0.125,"a":0.978,"b":0.925,"c":0.875},{"x":0.0625,"y":0.125,"a":0.979,"b":0.954,"c":0.930},{"x":0.125,"y":0.125,"a":0.969,"b":0.977,"c":0.984},{"x":0.1875,"y":0.125,"a":0.948,"b":0.931,"c":0.914},{"x":0.25,"y":0.125,"a":0.916,"b":0.879,"c":0.844},{"x":0.3125,"y":0.125,"a":0.874,"b":0.822,"c":0.773},{"x":0.375,"y":0.125,"a":0.824,"b":0.761,"c":0.703},{"x":0.4375,"y":0.125,"a":0.765,"b":0.696,"c":0.633},{"x":0.5,"y":0.125,"a":0.699,"b":0.627,"c":0.563},{"x":0.5625,"y":0.125,"a":0.625,"b":0.555,"c":0.492},{"x":0.625,"y":0.125,"a":0.547,"b":0.481,"c":0.422},{"x":0.6875,"y":0.125,"a":0.464,"b":0.404,"c":0.352},{"x":0.75,"y":0.125,"a":0.376,"b":0.325,"c":0.281},{"x":0.8125,"y":0.125,"a":0.285,"b":0.245,"c":0.211},{"x":0.875,"y":0.125,"a":0.191,"b":0.164,"c":0.141},{"x":0.9375,"y":0.125,"a":0.096,"b":0.082,"c":0.070},
{"x":-0.9375,"y":0.1875,"a":0.085,"b":0.066,"c":0.051},{"x":-0.875,"y":0.1875,"a":0.169,"b":0.131,"c":0.102},{"x":-0.8125,"y":0.1875,"a":0.252,"b":0.196,"c":0.152},{"x":-0.75,"y":0.1875,"a":0.333,"b":0.260,"c":0.203},{"x":-0.6875,"y":0.1875,"a":0.412,"b":0.323,"c":0.254},{"x":-0.625,"y":0.1875,"a":0.488,"b":0.386,"c":0.305},{"x":-0.5625,"y":0.1875,"a":0.559,"b":0.446,"c":0.355},{"x":-0.5,"y":0.1875,"a":0.628,"b":0.505,"c":0.406},{"x":-0.4375,"y":0.1875,"a":0.691,"b":0.562,"c":0.457},{"x":-0.375,"y":0.1875,"a":0.749,"b":0.617,"c":0.508},{"x":-0.3125,"y":0.1875,"a":0.801,"b":0.669,"c":0.559},{"x":-0.25,"y":0.1875,"a":0.846,"b":0.718,"c":0.609},{"x":-0.1875,"y":0.1875,"a":0.884,"b":0.764,"c":0.660},{"x":-0.125,"y":0.1875,"a":0.915,"b":0.807,"c":0.711},{"x":-0.0625,"y":0.1875,"a":0.937,"b":0.845,"c":0.762},{"x":0,"y":0.1875,"a":0.951,"b":0.879,"c":0.813},{"x":0.0625,"y":0.1875,"a":0.954,"b":0.907,"c":0.863},{"x":0.125,"y":0.1875,"a":0.948,"b":0.931,"c":0.914},{"x":0.1875,"y":0.1875,"a":0.931,"b":0.948,"c":0.965},{"x":0.25,"y":0.1875,"a":0.903,"b":0.897,"c":0.891},{"x":0.3125,"y":0.1875,"a":0.864,"b":0.840,"c":0.816},{"x":0.375,"y":0.1875,"a":0.816,"b":0.778,"c":0.742},{"x":0.4375,"y":0.1875,"a":0.759,"b":0.712,"c":0.668},{"x":0.5,"y":0.1875,"a":0.695,"b":0.642,"c":0.594},{"x":0.5625,"y":0.1875,"a":0.623,"b":0.569,"c":0.520},{"x":0.625,"y":0.1875,"a":0.545,"b":0.493,"c":0.445},{"x":0.6875,"y":0.1875,"a":0.462,"b":0.414,"c":0.371},{"x":0.75,"y":0.1875,"a":0.375,"b":0.334,"c":0.297},{"x":0.8125,"y":0.1875,"a":0.285,"b":0.252,"c":0.223},{"x":0.875,"y":0.1875,"a":0.191,"b":0.168,"c":0.148},{"x":0.9375,"y":0.1875,"a":0.096,"b":0.084,"c":0.074},
{"x":-0.9375,"y":0.25,"a":0.080,"b":0.061,"c":0.047},{"x":-0.875,"y":0.25,"a":0.160,"b":0.123,"c":0.094},{"x":-0.8125,"y":0.25,"a":0.239,"b":0.183,"c":0.141},{"x":-0.75,"y":0.25,"a":0.316,"b":0.244,"c":0.188},{"x":-0.6875,"y":0.25,"a":0.391,"b":0.303,"c":0.234},{"x":-0.625,"y":0.25,"a":0.464,"b":0.361,"c":0.281},{"x":-0.5625,"y":0.25,"a":0.532,"b":0.418,"c":0.328},{"x":-0.5,"y":0.25,"a":0.598,"b":0.473,"c":0.375},{"x":-0.4375,"y":0.25,"a":0.659,"b":0.527,"c":0.422},{"x":-0.375,"y":0.25,"a":0.714,"b":0.579,"c":0.469},{"x":-0.3125,"y":0.25,"a":0.764,"b":0.628,"c":0.516},{"x":-0.25,"y":0.25,"a":0.809,"b":0.674,"c":0.563},{"x":-0.1875,"y":0.25,"a":0.846,"b":0.718,"c":0.609},{"x":-0.125,"y":0.25,"a":0.877,"b":0.758,"c":0.656},{"x":-0.0625,"y":0.25,"a":0.899,"b":0.795,"c":0.703},{"x":0,"y":0.25,"a":0.914,"b":0.828,"c":0.75},{"x":0.0625,"y":0.25,"a":0.920,"b":0.856,"c":0.797},{"x":0.125,"y":0.25,"a":0.916,"b":0.879,"c":0.844},{"x":0.1875,"y":0.25,"a":0.903,"b":0.897,"c":0.891},{"x":0.25,"y":0.25,"a":0.879,"b":0.908,"c":0.938},{"x":0.3125,"y":0.25,"a":0.844,"b":0.851,"c":0.859},{"x":0.375,"y":0.25,"a":0.800,"b":0.790,"c":0.781},{"x":0.4375,"y":0.25,"a":0.746,"b":0.724,"c":0.703},{"x":0.5,"y":0.25,"a":0.684,"b":0.654,"c":0.625},{"x":0.5625,"y":0.25,"a":0.614,"b":0.580,"c":0.547},{"x":0.625,"y":0.25,"a":0.538,"b":0.503,"c":0.469},{"x":0.6875,"y":0.25,"a":0.457,"b":0.423,"c":0.391},{"x":0.75,"y":0.25,"a":0.371,"b":0.341,"c":0.313},{"x":0.8125,"y":0.25,"a":0.281,"b":0.257,"c":0.234},{"x":0.875,"y":0.25,"a":0.189,"b":0.172,"c":0.156},{"x":0.9375,"y":0.25,"a":0.095,"b":0.086,"c":0.078},
{"x":-0.9375,"y":0.3125,"a":0.076,"b":0.057,"c":0.043},{"x":-0.875,"y":0.3125,"a":0.151,"b":0.114,"c":0.086},{"x":-0.8125,"y":0.3125,"a":0.225,"b":0.170,"c":0.129},{"x":-0.75,"y":0.3125,"a":0.298,"b":0.226,"c":0.172},{"x":-0.6875,"y":0.3125,"a":0.368,"b":0.281,"c":0.215},{"x":-0.625,"y":0.3125,"a":0.437,"b":0.336,"c":0.258},{"x":-0.5625,"y":0.3125,"a":0.502,"b":0.389,"c":0.301},{"x":-0.5,"y":0.3125,"a":0.563,"b":0.440,"c":0.344},{"x":-0.4375,"y":0.3125,"a":0.621,"b":0.490,"c":0.387},{"x":-0.375,"y":0.3125,"a":0.674,"b":0.538,"c":0.430},{"x":-0.3125,"y":0.3125,"a":0.722,"b":0.584,"c":0.473},{"x":-0.25,"y":0.3125,"a":0.764,"b":0.628,"c":0.516},{"x":-0.1875,"y":0.3125,"a":0.801,"b":0.669,"c":0.559},{"x":-0.125,"y":0.3125,"a":0.831,"b":0.707,"c":0.602},{"x":-0.0625,"y":0.3125,"a":0.854,"b":0.742,"c":0.645},{"x":0,"y":0.3125,"a":0.869,"b":0.773,"c":0.688},{"x":0.0625,"y":0.3125,"a":0.876,"b":0.800,"c":0.730},{"x":0.125,"y":0.3125,"a":0.874,"b":0.822,"c":0.773},{"x":0.1875,"y":0.3125,"a":0.864,"b":0.840,"c":0.816},{"x":0.25,"y":0.3125,"a":0.844,"b":0.851,"c":0.859},{"x":0.3125,"y":0.3125,"a":0.814,"b":0.857,"c":0.902},{"x":0.375,"y":0.3125,"a":0.774,"b":0.796,"c":0.820},{"x":0.4375,"y":0.3125,"a":0.723,"b":0.731,"c":0.738},{"x":0.5,"y":0.3125,"a":0.665,"b":0.661,"c":0.656},{"x":0.5625,"y":0.3125,"a":0.599,"b":0.586,"c":0.574},{"x":0.625,"y":0.3125,"a":0.526,"b":0.509,"c":0.492},{"x":0.6875,"y":0.3125,"a":0.447,"b":0.428,"c":0.410},{"x":0.75,"y":0.3125,"a":0.363,"b":0.345,"c":0.328},{"x":0.8125,"y":0.3125,"a":0.276,"b":0.261,"c":0.246},{"x":0.875,"y":0.3125,"a":0.186,"b":0.174,"c":0.164},{"x":0.9375,"y":0.3125,"a":0.093,"b":0.087,"c":0.082},
{"x":-0.9375,"y":0.375,"a":0.070,"b":0.052,"c":0.039},{"x":-0.875,"y":0.375,"a":0.140,"b":0.105,"c":0.078},{"x":-0.8125,"y":0.375,"a":0.209,"b":0.157,"c":0.117},{"x":-0.75,"y":0.375,"a":0.277,"b":0.208,"c":0.156},{"x":-0.6875,"y":0.375,"a":0.343,"b":0.259,"c":0.195},{"x":-0.625,"y":0.375,"a":0.406,"b":0.309,"c":0.234},{"x":-0.5625,"y":0.375,"a":0.467,"b":0.357,"c":0.273},{"x":-0.5,"y":0.375,"a":0.525,"b":0.405,"c":0.313},{"x":-0.4375,"y":0.375,"a":0.579,"b":0.452,"c":0.352},{"x":-0.375,"y":0.375,"a":0.629,"b":0.496,"c":0.391},{"x":-0.3125,"y":0.375,"a":0.674,"b":0.538,"c":0.430},{"x":-0.25,"y":0.375,"a":0.714,"b":0.579,"c":0.469},{"x":-0.1875,"y":0.375,"a":0.749,"b":0.617,"c":0.508},{"x":-0.125,"y":0.375,"a":0.778,"b":0.652,"c":0.547},{"x":-0.0625,"y":0.375,"a":0.800,"b":0.684,"c":0.586},{"x":0,"y":0.375,"a":0.815,"b":0.714,"c":0.625},{"x":0.0625,"y":0.375,"a":0.823,"b":0.740,"c":0.664},{"x":0.125,"y":0.375,"a":0.824,"b":0.761,"c":0.703},{"x":0.1875,"y":0.375,"a":0.816,"b":0.778,"c":0.742},{"x":0.25,"y":0.375,"a":0.800,"b":0.790,"c":0.781},{"x":0.3125,"y":0.375,"a":0.774,"b":0.796,"c":0.820},{"x":0.375,"y":0.375,"a":0.739,"b":0.797,"c":0.859},{"x":0.4375,"y":0.375,"a":0.693,"b":0.732,"c":0.773},{"x":0.5,"y":0.375,"a":0.639,"b":0.663,"c":0.688},{"x":0.5625,"y":0.375,"a":0.577,"b":0.589,"c":0.602},{"x":0.625,"y":0.375,"a":0.508,"b":0.512,"c":0.516},{"x":0.6875,"y":0.375,"a":0.432,"b":0.431,"c":0.430},{"x":0.75,"y":0.375,"a":0.352,"b":0.348,"c":0.344},{"x":0.8125,"y":0.375,"a":0.267,"b":0.263,"c":0.258},{"x":0.875,"y":0.375,"a":0.180,"b":0.176,"c":0.172},{"x":0.9375,"y":0.375,"a":0.090,"b":0.088,"c":0.086},
{"x":-0.9375,"y":0.4375,"a":0.065,"b":0.048,"c":0.035},{"x":-0.875,"y":0.4375,"a":0.129,"b":0.095,"c":0.070},{"x":-0.8125,"y":0.4375,"a":0.192,"b":0.142,"c":0.105},{"x":-0.75,"y":0.4375,"a":0.255,"b":0.189,"c":0.141},{"x":-0.6875,"y":0.4375,"a":0.315,"b":0.235,"c":0.176},{"x":-0.625,"y":0.4375,"a":0.374,"b":0.281,"c":0.211},{"x":-0.5625,"y":0.4375,"a":0.430,"b":0.325,"c":0.246},{"x":-0.5,"y":0.4375,"a":0.483,"b":0.368,"c":0.281},{"x":-0.4375,"y":0.4375,"a":0.532,"b":0.410,"c":0.316},{"x":-0.375,"y":0.4375,"a":0.579,"b":0.452,"c":0.352},{"x":-0.3125,"y":0.4375,"a":0.621,"b":0.490,"c":0.387},{"x":-0.25,"y":0.4375,"a":0.659,"b":0.527,"c":0.422},{"x":-0.1875,"y":0.4375,"a":0.691,"b":0.562,"c":0.457},{"x":-0.125,"y":0.4375,"a":0.718,"b":0.594,"c":0.492},{"x":-0.0625,"y":0.4375,"a":0.739,"b":0.624,"c":0.527},{"x":0,"y":0.4375,"a":0.755,"b":0.651,"c":0.563},{"x":0.0625,"y":0.4375,"a":0.764,"b":0.676,"c":0.598},{"x":0.125,"y":0.4375,"a":0.765,"b":0.696,"c":0.633},{"x":0.1875,"y":0.4375,"a":0.759,"b":0.712,"c":0.668},{"x":0.25,"y":0.4375,"a":0.746,"b":0.724,"c":0.703},{"x":0.3125,"y":0.4375,"a":0.723,"b":0.731,"c":0.738},{"x":0.375,"y":0.4375,"a":0.693,"b":0.732,"c":0.773},{"x":0.4375,"y":0.4375,"a":0.654,"b":0.727,"c":0.809},{"x":0.5,"y":0.4375,"a":0.605,"b":0.660,"c":0.719},{"x":0.5625,"y":0.4375,"a":0.548,"b":0.587,"c":0.629},{"x":0.625,"y":0.4375,"a":0.483,"b":0.510,"c":0.539},{"x":0.6875,"y":0.4375,"a":0.412,"b":0.430,"c":0.449},{"x":0.75,"y":0.4375,"a":0.336,"b":0.347,"c":0.359},{"x":0.8125,"y":0.4375,"a":0.256,"b":0.263,"c":0.270},{"x":0.875,"y":0.4375,"a":0.172,"b":0.176,"c":0.180},{"x":0.9375,"y":0.4375,"a":0.087,"b":0.088,"c":0.090},
{"x":-0.9375,"y":0.5,"a":0.059,"b":0.043,"c":0.031},{"x":-0.875,"y":0.5,"a":0.117,"b":0.085,"c":0.063},{"x":-0.8125,"y":0.5,"a":0.174,"b":0.128,"c":0.094},{"x":-0.75,"y":0.5,"a":0.230,"b":0.170,"c":0.125},{"x":-0.6875,"y":0.5,"a":0.285,"b":0.211,"c":0.156},{"x":-0.625,"y":0.5,"a":0.338,"b":0.252,"c":0.188},{"x":-0.5625,"y":0.5,"a":0.389,"b":0.292,"c":0.219},{"x":-0.5,"y":0.5,"a":0.438,"b":0.331,"c":0.25},{"x":-0.4375,"y":0.5,"a":0.483,"b":0.368,"c":0.281},{"x":-0.375,"y":0.5,"a":0.525,"b":0.405,"c":0.313},{"x":-0.3125,"y":0.5,"a":0.563,"b":0.440,"c":0.344},{"x":-0.25,"y":0.5,"a":0.598,"b":0.473,"c":0.375},{"x":-0.1875,"y":0.5,"a":0.628,"b":0.505,"c":0.406},{"x":-0.125,"y":0.5,"a":0.653,"b":0.535,"c":0.438},{"x":-0.0625,"y":0.5,"a":0.673,"b":0.562,"c":0.469},{"x":0,"y":0.5,"a":0.688,"b":0.586,"c":0.5},{"x":0.0625,"y":0.5,"a":0.696,"b":0.608,"c":0.531},{"x":0.125,"y":0.5,"a":0.699,"b":0.627,"c":0.563},{"x":0.1875,"y":0.5,"a":0.695,"b":0.642,"c":0.594},{"x":0.25,"y":0.5,"a":0.684,"b":0.654,"c":0.625},{"x":0.3125,"y":0.5,"a":0.665,"b":0.661,"c":0.656},{"x":0.375,"y":0.5,"a":0.639,"b":0.663,"c":0.688},{"x":0.4375,"y":0.5,"a":0.605,"b":0.660,"c":0.719},{"x":0.5,"y":0.5,"a":0.563,"b":0.650,"c":0.75},{"x":0.5625,"y":0.5,"a":0.511,"b":0.579,"c":0.656},{"x":0.625,"y":0.5,"a":0.453,"b":0.505,"c":0.563},{"x":0.6875,"y":0.5,"a":0.387,"b":0.426,"c":0.469},{"x":0.75,"y":0.5,"a":0.316,"b":0.345,"c":0.375},{"x":0.8125,"y":0.5,"a":0.241,"b":0.260,"c":0.281},{"x":0.875,"y":0.5,"a":0.163,"b":0.175,"c":0.188},{"x":0.9375,"y":0.5,"a":0.082,"b":0.088,"c":0.094},
{"x":-0.9375,"y":0.5625,"a":0.052,"b":0.038,"c":0.027},{"x":-0.875,"y":0.5625,"a":0.104,"b":0.075,"c":0.055},{"x":-0.8125,"y":0.5625,"a":0.155,"b":0.113,"c":0.082},{"x":-0.75,"y":0.5625,"a":0.205,"b":0.150,"c":0.109},{"x":-0.6875,"y":0.5625,"a":0.254,"b":0.186,"c":0.137},{"x":-0.625,"y":0.5625,"a":0.301,"b":0.222,"c":0.164},{"x":-0.5625,"y":0.5625,"a":0.346,"b":0.257,"c":0.191},{"x":-0.5,"y":0.5625,"a":0.389,"b":0.292,"c":0.219},{"x":-0.4375,"y":0.5625,"a":0.430,"b":0.325,"c":0.246},{"x":-0.375,"y":0.5625,"a":0.467,"b":0.357,"c":0.273},{"x":-0.3125,"y":0.5625,"a":0.502,"b":0.389,"c":0.301},{"x":-0.25,"y":0.5625,"a":0.532,"b":0.418,"c":0.328},{"x":-0.1875,"y":0.5625,"a":0.559,"b":0.446,"c":0.355},{"x":-0.125,"y":0.5625,"a":0.582,"b":0.472,"c":0.383},{"x":-0.0625,"y":0.5625,"a":0.601,"b":0.496,"c":0.410},{"x":0,"y":0.5625,"a":0.614,"b":0.518,"c":0.438},{"x":0.0625,"y":0.5625,"a":0.623,"b":0.538,"c":0.465},{"x":0.125,"y":0.5625,"a":0.625,"b":0.555,"c":0.492},{"x":0.1875,"y":0.5625,"a":0.623,"b":0.569,"c":0.520},{"x":0.25,"y":0.5625,"a":0.614,"b":0.580,"c":0.547},{"x":0.3125,"y":0.5625,"a":0.599,"b":0.586,"c":0.574},{"x":0.375,"y":0.5625,"a":0.577,"b":0.589,"c":0.602},{"x":0.4375,"y":0.5625,"a":0.548,"b":0.587,"c":0.629},{"x":0.5,"y":0.5625,"a":0.511,"b":0.579,"c":0.656},{"x":0.5625,"y":0.5625,"a":0.468,"b":0.565,"c":0.684},{"x":0.625,"y":0.5625,"a":0.415,"b":0.493,"c":0.586},{"x":0.6875,"y":0.5625,"a":0.356,"b":0.417,"c":0.488},{"x":0.75,"y":0.5625,"a":0.292,"b":0.338,"c":0.391},{"x":0.8125,"y":0.5625,"a":0.223,"b":0.256,"c":0.293},{"x":0.875,"y":0.5625,"a":0.151,"b":0.171,"c":0.195},{"x":0.9375,"y":0.5625,"a":0.076,"b":0.086,"c":0.098},
{"x":-0.9375,"y":0.625,"a":0.045,"b":0.033,"c":0.023},{"x":-0.875,"y":0.625,"a":0.090,"b":0.065,"c":0.047},{"x":-0.8125,"y":0.625,"a":0.134,"b":0.097,"c":0.070},{"x":-0.75,"y":0.625,"a":0.178,"b":0.129,"c":0.094},{"x":-0.6875,"y":0.625,"a":0.220,"b":0.161,"c":0.117},{"x":-0.625,"y":0.625,"a":0.261,"b":0.192,"c":0.141},{"x":-0.5625,"y":0.625,"a":0.301,"b":0.222,"c":0.164},{"x":-0.5,"y":0.625,"a":0.338,"b":0.252,"c":0.188},{"x":-0.4375,"y":0.625,"a":0.374,"b":0.281,"c":0.211},{"x":-0.375,"y":0.625,"a":0.406,"b":0.309,"c":0.234},{"x":-0.3125,"y":0.625,"a":0.437,"b":0.336,"c":0.258},{"x":-0.25,"y":0.625,"a":0.464,"b":0.361,"c":0.281},{"x":-0.1875,"y":0.625,"a":0.488,"b":0.386,"c":0.305},{"x":-0.125,"y":0.625,"a":0.508,"b":0.408,"c":0.328},{"x":-0.0625,"y":0.625,"a":0.524,"b":0.429,"c":0.352},{"x":0,"y":0.625,"a":0.536,"b":0.448,"c":0.375},{"x":0.0625,"y":0.625,"a":0.544,"b":0.465,"c":0.398},{"x":0.125,"y":0.625,"a":0.547,"b":0.481,"c":0.422},{"x":0.1875,"y":0.625,"a":0.545,"b":0.493,"c":0.445},{"x":0.25,"y":0.625,"a":0.538,"b":0.503,"c":0.469},{"x":0.3125,"y":0.625,"a":0.526,"b":0.509,"c":0.492},{"x":0.375,"y":0.625,"a":0.508,"b":0.512,"c":0.516},{"x":0.4375,"y":0.625,"a":0.483,"b":0.510,"c":0.539},{"x":0.5,"y":0.625,"a":0.453,"b":0.505,"c":0.563},{"x":0.5625,"y":0.625,"a":0.415,"b":0.493,"c":0.586},{"x":0.625,"y":0.625,"a":0.371,"b":0.476,"c":0.609},{"x":0.6875,"y":0.625,"a":0.320,"b":0.403,"c":0.508},{"x":0.75,"y":0.625,"a":0.263,"b":0.327,"c":0.406},{"x":0.8125,"y":0.625,"a":0.202,"b":0.248,"c":0.305},{"x":0.875,"y":0.625,"a":0.136,"b":0.166,"c":0.203},{"x":0.9375,"y":0.625,"a":0.069,"b":0.084,"c":0.102},
{"x":-0.9375,"y":0.6875,"a":0.038,"b":0.027,"c":0.020},{"x":-0.875,"y":0.6875,"a":0.076,"b":0.054,"c":0.039},{"x":-0.8125,"y":0.6875,"a":0.113,"b":0.082,"c":0.059},{"x":-0.75,"y":0.6875,"a":0.150,"b":0.108,"c":0.078},{"x":-0.6875,"y":0.6875,"a":0.186,"b":0.135,"c":0.098},{"x":-0.625,"y":0.6875,"a":0.220,"b":0.161,"c":0.117},{"x":-0.5625,"y":0.6875,"a":0.254,"b":0.186,"c":0.137},{"x":-0.5,"y":0.6875,"a":0.285,"b":0.211,"c":0.156},{"x":-0.4375,"y":0.6875,"a":0.315,"b":0.235,"c":0.176},{"x":-0.375,"y":0.6875,"a":0.343,"b":0.259,"c":0.195},{"x":-0.3125,"y":0.6875,"a":0.368,"b":0.281,"c":0.215},{"x":-0.25,"y":0.6875,"a":0.391,"b":0.303,"c":0.234},{"x":-0.1875,"y":0.6875,"a":0.412,"b":0.323,"c":0.254},{"x":-0.125,"y":0.6875,"a":0.428,"b":0.342,"c":0.273},{"x":-0.0625,"y":0.6875,"a":0.443,"b":0.360,"c":0.293},{"x":0,"y":0.6875,"a":0.453,"b":0.377,"c":0.313},{"x":0.0625,"y":0.6875,"a":0.460,"b":0.391,"c":0.332},{"x":0.125,"y":0.6875,"a":0.464,"b":0.404,"c":0.352},{"x":0.1875,"y":0.6875,"a":0.462,"b":0.414,"c":0.371},{"x":0.25,"y":0.6875,"a":0.457,"b":0.423,"c":0.391},{"x":0.3125,"y":0.6875,"a":0.447,"b":0.428,"c":0.410},{"x":0.375,"y":0.6875,"a":0.432,"b":0.431,"c":0.430},{"x":0.4375,"y":0.6875,"a":0.412,"b":0.430,"c":0.449},{"x":0.5,"y":0.6875,"a":0.387,"b":0.426,"c":0.469},{"x":0.5625,"y":0.6875,"a":0.356,"b":0.417,"c":0.488},{"x":0.625,"y":0.6875,"a":0.320,"b":0.403,"c":0.508},{"x":0.6875,"y":0.6875,"a":0.278,"b":0.383,"c":0.527},{"x":0.75,"y":0.6875,"a":0.230,"b":0.311,"c":0.422},{"x":0.8125,"y":0.6875,"a":0.177,"b":0.236,"c":0.316},{"x":0.875,"y":0.6875,"a":0.120,"b":0.159,"c":0.211},{"x":0.9375,"y":0.6875,"a":0.061,"b":0.080,"c":0.105},
{"x":-0.9375,"y":0.75,"a":0.031,"b":0.022,"c":0.016},{"x":-0.875,"y":0.75,"a":0.061,"b":0.044,"c":0.031},{"x":-0.8125,"y":0.75,"a":0.091,"b":0.065,"c":0.047},{"x":-0.75,"y":0.75,"a":0.121,"b":0.087,"c":0.063},{"x":-0.6875,"y":0.75,"a":0.150,"b":0.108,"c":0.078},{"x":-0.625,"y":0.75,"a":0.178,"b":0.129,"c":0.094},{"x":-0.5625,"y":0.75,"a":0.205,"b":0.150,"c":0.109},{"x":-0.5,"y":0.75,"a":0.230,"b":0.170,"c":0.125},{"x":-0.4375,"y":0.75,"a":0.255,"b":0.189,"c":0.141},{"x":-0.375,"y":0.75,"a":0.277,"b":0.208,"c":0.156},{"x":-0.3125,"y":0.75,"a":0.298,"b":0.226,"c":0.172},{"x":-0.25,"y":0.75,"a":0.316,"b":0.244,"c":0.188},{"x":-0.1875,"y":0.75,"a":0.333,"b":0.260,"c":0.203},{"x":-0.125,"y":0.75,"a":0.347,"b":0.276,"c":0.219},{"x":-0.0625,"y":0.75,"a":0.358,"b":0.290,"c":0.234},{"x":0,"y":0.75,"a":0.367,"b":0.303,"c":0.25},{"x":0.0625,"y":0.75,"a":0.373,"b":0.315,"c":0.266},{"x":0.125,"y":0.75,"a":0.376,"b":0.325,"c":0.281},{"x":0.1875,"y":0.75,"a":0.375,"b":0.334,"c":0.297},{"x":0.25,"y":0.75,"a":0.371,"b":0.341,"c":0.313},{"x":0.3125,"y":0.75,"a":0.363,"b":0.345,"c":0.328},{"x":0.375,"y":0.75,"a":0.352,"b":0.348,"c":0.344},{"x":0.4375,"y":0.75,"a":0.336,"b":0.347,"c":0.359},{"x":0.5,"y":0.75,"a":0.316,"b":0.345,"c":0.375},{"x":0.5625,"y":0.75,"a":0.292,"b":0.338,"c":0.391},{"x":0.625,"y":0.75,"a":0.263,"b":0.327,"c":0.406},{"x":0.6875,"y":0.75,"a":0.230,"b":0.311,"c":0.422},{"x":0.75,"y":0.75,"a":0.191,"b":0.289,"c":0.438},{"x":0.8125,"y":0.75,"a":0.148,"b":0.220,"c":0.328},{"x":0.875,"y":0.75,"a":0.101,"b":0.149,"c":0.219},{"x":0.9375,"y":0.75,"a":0.051,"b":0.075,"c":0.109},
{"x":-0.9375,"y":0.8125,"a":0.023,"b":0.016,"c":0.012},{"x":-0.875,"y":0.8125,"a":0.046,"b":0.033,"c":0.023},{"x":-0.8125,"y":0.8125,"a":0.069,"b":0.049,"c":0.035},{"x":-0.75,"y":0.8125,"a":0.091,"b":0.065,"c":0.047},{"x":-0.6875,"y":0.8125,"a":0.113,"b":0.082,"c":0.059},{"x":-0.625,"y":0.8125,"a":0.134,"b":0.097,"c":0.070},{"x":-0.5625,"y":0.8125,"a":0.155,"b":0.113,"c":0.082},{"x":-0.5,"y":0.8125,"a":0.174,"b":0.128,"c":0.094},{"x":-0.4375,"y":0.8125,"a":0.192,"b":0.142,"c":0.105},{"x":-0.375,"y":0.8125,"a":0.209,"b":0.157,"c":0.117},{"x":-0.3125,"y":0.8125,"a":0.225,"b":0.170,"c":0.129},{"x":-0.25,"y":0.8125,"a":0.239,"b":0.183,"c":0.141},{"x":-0.1875,"y":0.8125,"a":0.252,"b":0.196,"c":0.152},{"x":-0.125,"y":0.8125,"a":0.262,"b":0.208,"c":0.164},{"x":-0.0625,"y":0.8125,"a":0.271,"b":0.219,"c":0.176},{"x":0,"y":0.8125,"a":0.278,"b":0.228,"c":0.188},{"x":0.0625,"y":0.8125,"a":0.282,"b":0.237,"c":0.199},{"x":0.125,"y":0.8125,"a":0.285,"b":0.245,"c":0.211},{"x":0.1875,"y":0.8125,"a":0.285,"b":0.252,"c":0.223},{"x":0.25,"y":0.8125,"a":0.281,"b":0.257,"c":0.234},{"x":0.3125,"y":0.8125,"a":0.276,"b":0.261,"c":0.246},{"x":0.375,"y":0.8125,"a":0.267,"b":0.263,"c":0.258},{"x":0.4375,"y":0.8125,"a":0.256,"b":0.263,"c":0.270},{"x":0.5,"y":0.8125,"a":0.241,"b":0.260,"c":0.281},{"x":0.5625,"y":0.8125,"a":0.223,"b":0.256,"c":0.293},{"x":0.625,"y":0.8125,"a":0.202,"b":0.248,"c":0.305},{"x":0.6875,"y":0.8125,"a":0.177,"b":0.236,"c":0.316},{"x":0.75,"y":0.8125,"a":0.148,"b":0.220,"c":0.328},{"x":0.8125,"y":0.8125,"a":0.116,"b":0.198,"c":0.340},{"x":0.875,"y":0.8125,"a":0.079,"b":0.134,"c":0.227},{"x":0.9375,"y":0.8125,"a":0.040,"b":0.068,"c":0.113},
{"x":-0.9375,"y":0.875,"a":0.016,"b":0.011,"c":0.008},{"x":-0.875,"y":0.875,"a":0.031,"b":0.022,"c":0.016},{"x":-0.8125,"y":0.875,"a":0.046,"b":0.033,"c":0.023},{"x":-0.75,"y":0.875,"a":0.061,"b":0.044,"c":0.031},{"x":-0.6875,"y":0.875,"a":0.076,"b":0.054,"c":0.039},{"x":-0.625,"y":0.875,"a":0.090,"b":0.065,"c":0.047},{"x":-0.5625,"y":0.875,"a":0.104,"b":0.075,"c":0.055},{"x":-0.5,"y":0.875,"a":0.117,"b":0.085,"c":0.063},{"x":-0.4375,"y":0.875,"a":0.129,"b":0.095,"c":0.070},{"x":-0.375,"y":0.875,"a":0.140,"b":0.105,"c":0.078},{"x":-0.3125,"y":0.875,"a":0.151,"b":0.114,"c":0.086},{"x":-0.25,"y":0.875,"a":0.160,"b":0.123,"c":0.094},{"x":-0.1875,"y":0.875,"a":0.169,"b":0.131,"c":0.102},{"x":-0.125,"y":0.875,"a":0.176,"b":0.139,"c":0.109},{"x":-0.0625,"y":0.875,"a":0.182,"b":0.146,"c":0.117},{"x":0,"y":0.875,"a":0.187,"b":0.153,"c":0.125},{"x":0.0625,"y":0.875,"a":0.190,"b":0.159,"c":0.133},{"x":0.125,"y":0.875,"a":0.191,"b":0.164,"c":0.141},{"x":0.1875,"y":0.875,"a":0.191,"b":0.168,"c":0.148},{"x":0.25,"y":0.875,"a":0.189,"b":0.172,"c":0.156},{"x":0.3125,"y":0.875,"a":0.186,"b":0.174,"c":0.164},{"x":0.375,"y":0.875,"a":0.180,"b":0.176,"c":0.172},{"x":0.4375,"y":0.875,"a":0.172,"b":0.176,"c":0.180},{"x":0.5,"y":0.875,"a":0.163,"b":0.175,"c":0.188},{"x":0.5625,"y":0.875,"a":0.151,"b":0.171,"c":0.195},{"x":0.625,"y":0.875,"a":0.136,"b":0.166,"c":0.203},{"x":0.6875,"y":0.875,"a":0.120,"b":0.159,"c":0.211},{"x":0.75,"y":0.875,"a":0.101,"b":0.149,"c":0.219},{"x":0.8125,"y":0.875,"a":0.079,"b":0.134,"c":0.227},{"x":0.875,"y":0.875,"a":0.055,"b":0.113,"c":0.234},{"x":0.9375,"y":0.875,"a":0.028,"b":0.057,"c":0.117},
{"x":-0.9375,"y":0.9375,"a":0.008,"b":0.006,"c":0.004},{"x":-0.875,"y":0.9375,"a":0.016,"b":0.011,"c":0.008},{"x":-0.8125,"y":0.9375,"a":0.023,"b":0.016,"c":0.012},{"x":-0.75,"y":0.9375,"a":0.031,"b":0.022,"c":0.016},{"x":-0.6875,"y":0.9375,"a":0.038,"b":0.027,"c":0.020},{"x":-0.625,"y":0.9375,"a":0.045,"b":0.033,"c":0.023},{"x":-0.5625,"y":0.9375,"a":0.052,"b":0.038,"c":0.027},{"x":-0.5,"y":0.9375,"a":0.059,"b":0.043,"c":0.031},{"x":-0.4375,"y":0.9375,"a":0.065,"b":0.048,"c":0.035},{"x":-0.375,"y":0.9375,"a":0.070,"b":0.052,"c":0.039},{"x":-0.3125,"y":0.9375,"a":0.076,"b":0.057,"c":0.043},{"x":-0.25,"y":0.9375,"a":0.080,"b":0.061,"c":0.047},{"x":-0.1875,"y":0.9375,"a":0.085,"b":0.066,"c":0.051},{"x":-0.125,"y":0.9375,"a":0.088,"b":0.070,"c":0.055},{"x":-0.0625,"y":0.9375,"a":0.091,"b":0.073,"c":0.059},{"x":0,"y":0.9375,"a":0.094,"b":0.077,"c":0.063},{"x":0.0625,"y":0.9375,"a":0.095,"b":0.079,"c":0.066},{"x":0.125,"y":0.9375,"a":0.096,"b":0.082,"c":0.070},{"x":0.1875,"y":0.9375,"a":0.096,"b":0.084,"c":0.074},{"x":0.25,"y":0.9375,"a":0.095,"b":0.086,"c":0.078},{"x":0.3125,"y":0.9375,"a":0.093,"b":0.087,"c":0.082},{"x":0.375,"y":0.9375,"a":0.090,"b":0.088,"c":0.086},{"x":0.4375,"y":0.9375,"a":0.087,"b":0.088,"c":0.090},{"x":0.5,"y":0.9375,"a":0.082,"b":0.088,"c":0.094},{"x":0.5625,"y":0.9375,"a":0.076,"b":0.086,"c":0.098},{"x":0.625,"y":0.9375,"a":0.069,"b":0.084,"c":0.102},{"x":0.6875,"y":0.9375,"a":0.061,"b":0.080,"c":0.105},{"x":0.75,"y":0.9375,"a":0.051,"b":0.075,"c":0.109},{"x":0.8125,"y":0.9375,"a":0.040,"b":0.068,"c":0.113},{"x":0.875,"y":0.9375,"a":0.028,"b":0.057,"c":0.117},{"x":0.9375,"y":0.9375,"a":0.015,"b":0.042,"c":0.121}
],
"l1": [
{"s":"a","x":-1,"y":0},{"s":"a","x":-0.85,"y":0.04},{"s":"a","x":-0.71,"y":0.07},{"s":"a","x":-0.56,"y":-0.07},{"s":"a","x":-0.44,"y":-0.18},{"s":"a","x":-0.32,"y":-0.31},{"s":"a","x":-0.2,"y":-0.44},{"s":"a","x":-0.07,"y":-0.59},{"s":"a","x":0.05,"y":-0.7},{"s":"a","x":0.17,"y":-0.8},{"s":"a","x":0.32,"y":-0.88},{"s":"a","x":0.46,"y":-0.84},{"s":"a","x":0.61,"y":-0.77},{"s":"a","x":0.76,"y":-0.59},{"s":"a","x":0.88,"y":-0.31},{"s":"a","x":1,"y":0},
{"s":"b","x":-1,"y":0},{"s":"b","x":-0.85,"y":0.14},{"s":"b","x":-0.71,"y":0.25},{"s":"b","x":-0.56,"y":0.46},{"s":"b","x":-0.41,"y":0.67},{"s":"b","x":-0.32,"y":0.74},{"s":"b","x":-0.07,"y":0.74},{"s":"b","x":0.17,"y":0.74},{"s":"b","x":0.27,"y":0.77},{"s":"b","x":0.41,"y":0.7},{"s":"b","x":0.56,"y":0.6},{"s":"b","x":0.71,"y":0.49},{"s":"b","x":0.8,"y":0.35},{"s":"b","x":0.9,"y":0.1},{"s":"b","x":0.95,"y":-0.04},{"s":"b","x":1,"y":0},
{"s":"c","x":-1,"y":0},{"s":"c","x":-0.9,"y":0.22},{"s":"c","x":-0.8,"y":0.29},{"s":"c","x":-0.66,"y":0.28},{"s":"c","x":-0.56,"y":0.18},{"s":"c","x":-0.41,"y":0.01},{"s":"c","x":-0.27,"y":-0.1},{"s":"c","x":-0.07,"y":-0.17},{"s":"c","x":0.17,"y":-0.24},{"s":"c","x":0.41,"y":-0.35},{"s":"c","x":0.56,"y":-0.35},{"s":"c","x":0.71,"y":-0.27},{"s":"c","x":0.85,"y":-0.17},{"s":"c","x":1,"y":0},
{"s":"d","x":-1,"y":0},{"s":"d","x":-0.93,"y":-0.27},{"s":"d","x":-0.8,"y":-0.35},{"s":"d","x":-0.66,"y":-0.35},{"s":"d","x":-0.51,"y":-0.42},{"s":"d","x":-0.37,"y":-0.38},{"s":"d","x":-0.22,"y":-0.27},{"s":"d","x":-0.12,"y":-0.13},{"s":"d","x":-0.02,"y":0.04},{"s":"d","x":0.12,"y":0.11},{"s":"d","x":0.32,"y":0.18},{"s":"d","x":0.51,"y":0.25},{"s":"d","x":0.66,"y":0.29},{"s":"d","x":0.8,"y":0.29},{"s":"d","x":0.9,"y":0.22},{"s":"d","x":1,"y":0},
{"s":"e","x":-1,"y":0},{"s":"e","x":-0.9,"y":-0.38},{"s":"e","x":-0.76,"y":-0.73},{"s":"e","x":-0.61,"y":-1.01},{"s":"e","x":-0.46,"y":-1.22},{"s":"e","x":-0.32,"y":-1.38},{"s":"e","x":-0.17,"y":-1.43},{"s":"e","x":-0.02,"y":-1.36},{"s":"e","x":0.12,"y":-1.29},{"s":"e","x":0.27,"y":-1.17},{"s":"e","x":0.41,"y":-1.22},{"s":"e","x":0.51,"y":-1.24},{"s":"e","x":0.61,"y":-1.15},{"s":"e","x":0.71,"y":-0.94},{"s":"e","x":0.8,"y":-0.66},{"s":"e","x":0.9,"y":-0.31},{"s":"e","x":1,"y":0}
],
"l2": [
{"s":"a","x":-1,"y":0.05},{"s":"a","x":-0.98,"y":0.11},{"s":"a","x":-0.85,"y":0.18},{"s":"a","x":-0.76,"y":0.46},{"s":"a","x":-0.61,"y":0.74},{"s":"a","x":-0.41,"y":0.91},{"s":"a","x":-0.27,"y":1.02},{"s":"a","x":-0.12,"y":1.3},{"s":"a","x":-0.02,"y":1.51},{"s":"a","x":0.06,"y":1.61},{"s":"a","x":0.17,"y":1.55},{"s":"a","x":0.32,"y":1.51},{"s":"a","x":0.41,"y":1.37},{"s":"a","x":0.51,"y":1.09},{"s":"a","x":0.61,"y":0.74},{"s":"a","x":0.71,"y":0.46},{"s":"a","x":0.78,"y":0.25},{"s":"a","x":0.83,"y":0.04},{"s":"a","x":0.88,"y":0.01},{"s":"a","x":0.93,"y":0.04},{"s":"a","x":0.98,"y":0.18},{"s":"a","x":1,"y":0.2},
{"s":"b","x":-1,"y":0.1},{"s":"b","x":-0.99,"y":0.18},{"s":"b","x":-0.93,"y":0.74},{"s":"b","x":-0.85,"y":1.02},{"s":"b","x":-0.76,"y":1.09},{"s":"b","x":-0.68,"y":1.13},{"s":"b","x":-0.61,"y":1.3},{"s":"b","x":-0.51,"y":1.51},{"s":"b","x":-0.45,"y":1.61},{"s":"b","x":-0.4,"y":1.55},{"s":"b","x":-0.32,"y":1.3},{"s":"b","x":-0.2,"y":1.13},{"s":"b","x":-0.07,"y":0.88},{"s":"b","x":0.07,"y":0.6},{"s":"b","x":0.17,"y":0.46},{"s":"b","x":0.27,"y":0.35},{"s":"b","x":0.37,"y":0.39},{"s":"b","x":0.46,"y":0.32},{"s":"b","x":0.56,"y":0.25},{"s":"b","x":0.66,"y":0.21},{"s":"b","x":0.76,"y":0.25},{"s":"b","x":0.85,"y":0.18},{"s":"b","x":0.93,"y":0.21},{"s":"b","x":1,"y":0.32},
{"s":"c","x":-1,"y":0.1},{"s":"c","x":-0.99,"y":0.18},{"s":"c","x":-0.9,"y":-0.03},{"s":"c","x":-0.8,"y":-0.38},{"s":"c","x":-0.73,"y":-0.87},{"s":"c","x":-0.66,"y":-1.36},{"s":"c","x":-0.59,"y":-1.71},{"s":"c","x":-0.51,"y":-1.8},{"s":"c","x":-0.41,"y":-1.8},{"s":"c","x":-0.32,"y":-1.64},{"s":"c","x":-0.22,"y":-1.57},{"s":"c","x":-0.07,"y":-1.52},{"s":"c","x":0.07,"y":-1.43},{"s":"c","x":0.22,"y":-1.22},{"s":"c","x":0.32,"y":-1.01},{"s":"c","x":0.41,"y":-0.97},{"s":"c","x":0.51,"y":-0.66},{"s":"c","x":0.61,"y":-0.38},{"s":"c","x":0.71,"y":-0.24},{"s":"c","x":0.8,"y":-0.13},{"s":"c","x":0.88,"y":-0.07},{"s":"c","x":0.93,"y":-0.1},{"s":"c","x":1,"y":-0.03},
{"s":"d","x":-1,"y":0.05},{"s":"d","x":-0.99,"y":0.11},{"s":"d","x":-0.93,"y":0.18},{"s":"d","x":-0.88,"y":0.11},{"s":"d","x":-0.8,"y":-0.1},{"s":"d","x":-0.71,"y":-0.27},{"s":"d","x":-0.61,"y":-0.38},{"s":"d","x":-0.51,"y":-0.31},{"s":"d","x":-0.37,"y":-0.27},{"s":"d","x":-0.22,"y":-0.21},{"s":"d","x":-0.07,"y":-0.13},{"s":"d","x":0.07,"y":-0.07},{"s":"d","x":0.12,"y":-0.1},{"s":"d","x":0.22,"y":-0.24},{"s":"d","x":0.32,"y":-0.45},{"s":"d","x":0.41,"y":-0.59},{"s":"d","x":0.51,"y":-0.59},{"s":"d","x":0.61,"y":-0.66},{"s":"d","x":0.71,"y":-0.73},{"s":"d","x":0.78,"y":-0.66},{"s":"d","x":0.85,"y":-0.45},{"s":"d","x":0.93,"y":-0.24},{"s":"d","x":1,"y":-0.1},
{"s":"e","x":-1,"y":0.04},{"s":"e","x":-0.93,"y":-0.17},{"s":"e","x":-0.85,"y":-0.45},{"s":"e","x":-0.76,"y":-0.8},{"s":"e","x":-0.66,"y":-1.01},{"s":"e","x":-0.56,"y":-1.1},{"s":"e","x":-0.46,"y":-1.29},{"s":"e","x":-0.37,"y":-1.43},{"s":"e","x":-0.27,"y":-1.57},{"s":"e","x":-0.17,"y":-1.64},{"s":"e","x":-0.07,"y":-1.61},{"s":"e","x":0.07,"y":-1.52},{"s":"e","x":0.22,"y":-1.43},{"s":"e","x":0.29,"y":-1.36},{"s":"e","x":0.37,"y":-1.5},{"s":"e","x":0.41,"y":-1.57},{"s":"e","x":0.51,"y":-1.5},{"s":"e","x":0.61,"y":-1.36},{"s":"e","x":0.71,"y":-1.22},{"s":"e","x":0.8,"y":-1.08},{"s":"e","x":0.88,"y":-0.87},{"s":"e","x":0.93,"y":-0.52},{"s":"e","x":0.98,"y":-0.1},{"s":"e","x":1,"y":0.11}
],
"l3": [
{"s":"a","x":-1,"y":-0.06},{"s":"a","x":-0.91,"y":-0.13},{"s":"a","x":-0.84,"y":-0.06},{"s":"a","x":-0.79,"y":-0.13},{"s":"a","x":-0.72,"y":-0.41},{"s":"a","x":-0.64,"y":-0.62},{"s":"a","x":-0.6,"y":-0.55},{"s":"a","x":-0.52,"y":-0.29},{"s":"a","x":-0.43,"y":-0.29},{"s":"a","x":-0.33,"y":-0.34},{"s":"a","x":-0.23,"y":-0.34},{"s":"a","x":-0.13,"y":-0.41},{"s":"a","x":-0.04,"y":-0.43},{"s":"a","x":0.06,"y":-0.52},{"s":"a","x":0.16,"y":-0.69},{"s":"a","x":0.26,"y":-0.9},{"s":"a","x":0.35,"y":-0.97},{"s":"a","x":0.45,"y":-1.03},{"s":"a","x":0.55,"y":-1.13},{"s":"a","x":0.64,"y":-1.03},{"s":"a","x":0.74,"y":-0.99},{"s":"a","x":0.82,"y":-0.97},{"s":"a","x":0.89,"y":-0.55},{"s":"a","x":0.96,"y":-0.2},{"s":"a","x":1,"y":-0.06},
{"s":"b","x":-1,"y":0.22},{"s":"b","x":-0.96,"y":-0.13},{"s":"b","x":-0.91,"y":-0.27},{"s":"b","x":-0.84,"y":-0.34},{"s":"b","x":-0.77,"y":-0.48},{"s":"b","x":-0.67,"y":-0.69},{"s":"b","x":-0.57,"y":-0.76},{"s":"b","x":-0.47,"y":-0.8},{"s":"b","x":-0.38,"y":-0.9},{"s":"b","x":-0.28,"y":-1.1},{"s":"b","x":-0.18,"y":-1.13},{"s":"b","x":-0.09,"y":-0.97},{"s":"b","x":0.01,"y":-0.85},{"s":"b","x":0.11,"y":-0.69},{"s":"b","x":0.21,"y":-0.55},{"s":"b","x":0.3,"y":-0.52},{"s":"b","x":0.4,"y":-0.55},{"s":"b","x":0.5,"y":-0.52},{"s":"b","x":0.6,"y":-0.62},{"s":"b","x":0.69,"y":-0.55},{"s":"b","x":0.77,"y":-0.34},{"s":"b","x":0.84,"y":-0.2},{"s":"b","x":0.91,"y":-0.06},{"s":"b","x":0.96,"y":0.01},{"s":"b","x":1,"y":-0.06},
{"s":"c","x":-1,"y":-0.13},{"s":"c","x":-0.94,"y":-0.27},{"s":"c","x":-0.86,"y":-0.34},{"s":"c","x":-0.79,"y":-0.43},{"s":"c","x":-0.74,"y":-0.48},{"s":"c","x":-0.69,"y":-0.34},{"s":"c","x":-0.64,"y":0.01},{"s":"c","x":-0.57,"y":0.43},{"s":"c","x":-0.52,"y":0.71},{"s":"c","x":-0.45,"y":0.78},{"s":"c","x":-0.38,"y":0.85},{"s":"c","x":-0.3,"y":0.74},{"s":"c","x":-0.23,"y":0.57},{"s":"c","x":-0.16,"y":0.43},{"s":"c","x":-0.09,"y":0.32},{"s":"c","x":0.01,"y":0.22},{"s":"c","x":0.11,"y":0.15},{"s":"c","x":0.21,"y":0.08},{"s":"c","x":0.3,"y":0.08},{"s":"c","x":0.4,"y":-0.06},{"s":"c","x":0.5,"y":-0.13},{"s":"c","x":0.6,"y":-0.1},{"s":"c","x":0.69,"y":-0.2},{"s":"c","x":0.79,"y":-0.34},{"s":"c","x":0.89,"y":-0.29},{"s":"c","x":0.96,"y":-0.27},{"s":"c","x":1,"y":-0.2},
{"s":"d","x":-1,"y":0.29},{"s":"d","x":-0.96,"y":-0.27},{"s":"d","x":-0.91,"y":-0.34},{"s":"d","x":-0.86,"y":-0.48},{"s":"d","x":-0.82,"y":-0.34},{"s":"d","x":-0.77,"y":0.01},{"s":"d","x":-0.67,"y":0.22},{"s":"d","x":-0.6,"y":0.5},{"s":"d","x":-0.52,"y":0.57},{"s":"d","x":-0.43,"y":0.64},{"s":"d","x":-0.33,"y":0.78},{"s":"d","x":-0.23,"y":0.92},{"s":"d","x":-0.16,"y":0.88},{"s":"d","x":-0.09,"y":0.78},{"s":"d","x":0.01,"y":0.64},{"s":"d","x":0.11,"y":0.5},{"s":"d","x":0.21,"y":0.36},{"s":"d","x":0.3,"y":0.29},{"s":"d","x":0.4,"y":0.36},{"s":"d","x":0.5,"y":0.22},{"s":"d","x":0.6,"y":0.08},{"s":"d","x":0.69,"y":0.22},{"s":"d","x":0.79,"y":0.29},{"s":"d","x":0.86,"y":0.22},{"s":"d","x":0.91,"y":0.29},{"s":"d","x":0.95,"y":0.08},{"s":"d","x":1,"y":-0.13},
{"s":"e","x":-1,"y":0.01},{"s":"e","x":-0.94,"y":-0.06},{"s":"e","x":-0.89,"y":-0.27},{"s":"e","x":-0.84,"y":-0.69},{"s":"e","x":-0.79,"y":-0.97},{"s":"e","x":-0.74,"y":-1.17},{"s":"e","x":-0.71,"y":-1.22},{"s":"e","x":-0.64,"y":-1.03},{"s":"e","x":-0.57,"y":-0.69},{"s":"e","x":-0.47,"y":-0.06},{"s":"e","x":-0.38,"y":0.43},{"s":"e","x":-0.28,"y":0.78},{"s":"e","x":-0.18,"y":1.06},{"s":"e","x":-0.09,"y":1.34},{"s":"e","x":0.01,"y":1.62},{"s":"e","x":0.11,"y":1.76},{"s":"e","x":0.21,"y":1.69},{"s":"e","x":0.3,"y":1.62},{"s":"e","x":0.4,"y":1.48},{"s":"e","x":0.5,"y":1.41},{"s":"e","x":0.6,"y":1.27},{"s":"e","x":0.69,"y":1.06},{"s":"e","x":0.79,"y":0.85},{"s":"e","x":0.89,"y":0.71},{"s":"e","x":0.94,"y":0.57},{"s":"e","x":0.98,"y":0.36},{"s":"e","x":1,"y":0.15}
]
},
"concat": [
{"width": 126, "height": 95, "title": {"text": "λⱼ = 1/j⁴", "dx": 8}, "data": {"name": "hm"}, "view": {"fill": "#000088"},
 "mark": {"type": "rect", "width": 4.3, "height": 3.3},
 "encoding": {
  "x": {"field": "x", "type": "quantitative", "scale": {"domain": [-1, 1], "nice": false, "zero": false}, "axis": {"values": [-1, -0.5, 0, 0.5, 1], "format": ".1f", "title": "x", "titlePadding": 5}},
  "y": {"field": "y", "type": "quantitative", "scale": {"domain": [-1, 1], "nice": false, "zero": false}, "axis": {"values": [-1, -0.5, 0, 0.5, 1], "format": ".1f", "title": "y", "titleAngle": 0, "titleAlign": "right", "titleBaseline": "middle", "titlePadding": 9}},
  "color": {"field": "a", "type": "quantitative", "scale": {"domain": [0, 0.11, 0.125, 0.34, 0.35, 0.375, 0.64, 0.65, 0.66, 0.89, 0.91, 1], "range": ["#000080", "#0000ff", "#0000ff", "#00dbff", "#00e5f7", "#15ffe2", "#eeff08", "#f7f500", "#ffec00", "#ff1300", "#e80000", "#800000"], "interpolate": "rgb"}, "legend": {"title": null, "values": [0, 0.25, 0.5, 0.75, 1], "format": ".2f"}}
 }},
{"width": 126, "height": 95, "title": {"text": "λⱼ = 1/j³"}, "data": {"name": "hm"}, "view": {"fill": "#000088"},
 "mark": {"type": "rect", "width": 4.3, "height": 3.3},
 "encoding": {
  "x": {"field": "x", "type": "quantitative", "scale": {"domain": [-1, 1], "nice": false, "zero": false}, "axis": {"values": [-1, -0.5, 0, 0.5, 1], "format": ".1f", "title": "x", "titlePadding": 5}},
  "y": {"field": "y", "type": "quantitative", "scale": {"domain": [-1, 1], "nice": false, "zero": false}, "axis": {"values": [-1, -0.5, 0, 0.5, 1], "format": ".1f", "title": "y", "titleAngle": 0, "titleAlign": "right", "titleBaseline": "middle", "titlePadding": 9}},
  "color": {"field": "b", "type": "quantitative", "scale": {"domain": [0, 0.11, 0.125, 0.34, 0.35, 0.375, 0.64, 0.65, 0.66, 0.89, 0.91, 1], "range": ["#000080", "#0000ff", "#0000ff", "#00dbff", "#00e5f7", "#15ffe2", "#eeff08", "#f7f500", "#ffec00", "#ff1300", "#e80000", "#800000"], "interpolate": "rgb"}, "legend": {"title": null, "values": [0, 0.25, 0.5, 0.75, 1], "format": ".2f"}}
 }},
{"width": 126, "height": 95, "title": {"text": "λⱼ = Rⱼ/j", "dx": 3}, "data": {"name": "hm"}, "view": {"fill": "#000088"},
 "mark": {"type": "rect", "width": 4.3, "height": 3.3},
 "encoding": {
  "x": {"field": "x", "type": "quantitative", "scale": {"domain": [-1, 1], "nice": false, "zero": false}, "axis": {"values": [-1, -0.5, 0, 0.5, 1], "format": ".1f", "title": "x", "titlePadding": 5}},
  "y": {"field": "y", "type": "quantitative", "scale": {"domain": [-1, 1], "nice": false, "zero": false}, "axis": {"values": [-1, -0.5, 0, 0.5, 1], "format": ".1f", "title": "y", "titleAngle": 0, "titleAlign": "right", "titleBaseline": "middle", "titlePadding": 9}},
  "color": {"field": "c", "type": "quantitative", "scale": {"domain": [0, 0.11, 0.125, 0.34, 0.35, 0.375, 0.64, 0.65, 0.66, 0.89, 0.91, 1], "range": ["#000080", "#0000ff", "#0000ff", "#00dbff", "#00e5f7", "#15ffe2", "#eeff08", "#f7f500", "#ffec00", "#ff1300", "#e80000", "#800000"], "interpolate": "rgb"}, "legend": {"title": null, "values": [0, 0.25, 0.5, 0.75, 1], "format": ".2f"}}
 }},
{"width": 136, "height": 95, "data": {"name": "l1"},
 "mark": {"type": "line", "strokeWidth": 1.5, "interpolate": "monotone"},
 "encoding": {
  "x": {"field": "x", "type": "quantitative", "scale": {"domain": [-1, 1], "nice": false, "zero": false}, "axis": {"values": [-1, -0.5, 0, 0.5, 1], "format": ".1f", "title": "x", "titlePadding": 4}},
  "y": {"field": "y", "type": "quantitative", "scale": {"domain": [-2, 2], "nice": false}, "axis": {"values": [-2, -1, 0, 1, 2], "format": "d", "title": null}},
  "color": {"field": "s", "type": "nominal", "scale": {"domain": ["a", "b", "c", "d", "e"], "range": ["#1f77b4", "#ff7f0e", "#2ca02c", "#d62728", "#9467bd"]}, "legend": null}
 }},
{"width": 136, "height": 95, "data": {"name": "l2"},
 "mark": {"type": "line", "strokeWidth": 1.5},
 "encoding": {
  "x": {"field": "x", "type": "quantitative", "scale": {"domain": [-1, 1], "nice": false, "zero": false}, "axis": {"values": [-1, -0.5, 0, 0.5, 1], "format": ".1f", "title": "x", "titlePadding": 4}},
  "y": {"field": "y", "type": "quantitative", "scale": {"domain": [-2, 2], "nice": false}, "axis": {"values": [-2, -1, 0, 1, 2], "format": "d", "title": null}},
  "color": {"field": "s", "type": "nominal", "scale": {"domain": ["a", "b", "c", "d", "e"], "range": ["#1f77b4", "#ff7f0e", "#2ca02c", "#d62728", "#9467bd"]}, "legend": null}
 }},
{"width": 136, "height": 95, "data": {"name": "l3"},
 "mark": {"type": "line", "strokeWidth": 1.5},
 "encoding": {
  "x": {"field": "x", "type": "quantitative", "scale": {"domain": [-1, 1], "nice": false, "zero": false}, "axis": {"values": [-1, -0.5, 0, 0.5, 1], "format": ".1f", "title": "x", "titlePadding": 4}},
  "y": {"field": "y", "type": "quantitative", "scale": {"domain": [-2, 2], "nice": false}, "axis": {"values": [-2, -1, 0, 1, 2], "format": "d", "title": null}},
  "color": {"field": "s", "type": "nominal", "scale": {"domain": ["a", "b", "c", "d", "e"], "range": ["#1f77b4", "#ff7f0e", "#2ca02c", "#d62728", "#9467bd"]}, "legend": null}
 }}
]
}
